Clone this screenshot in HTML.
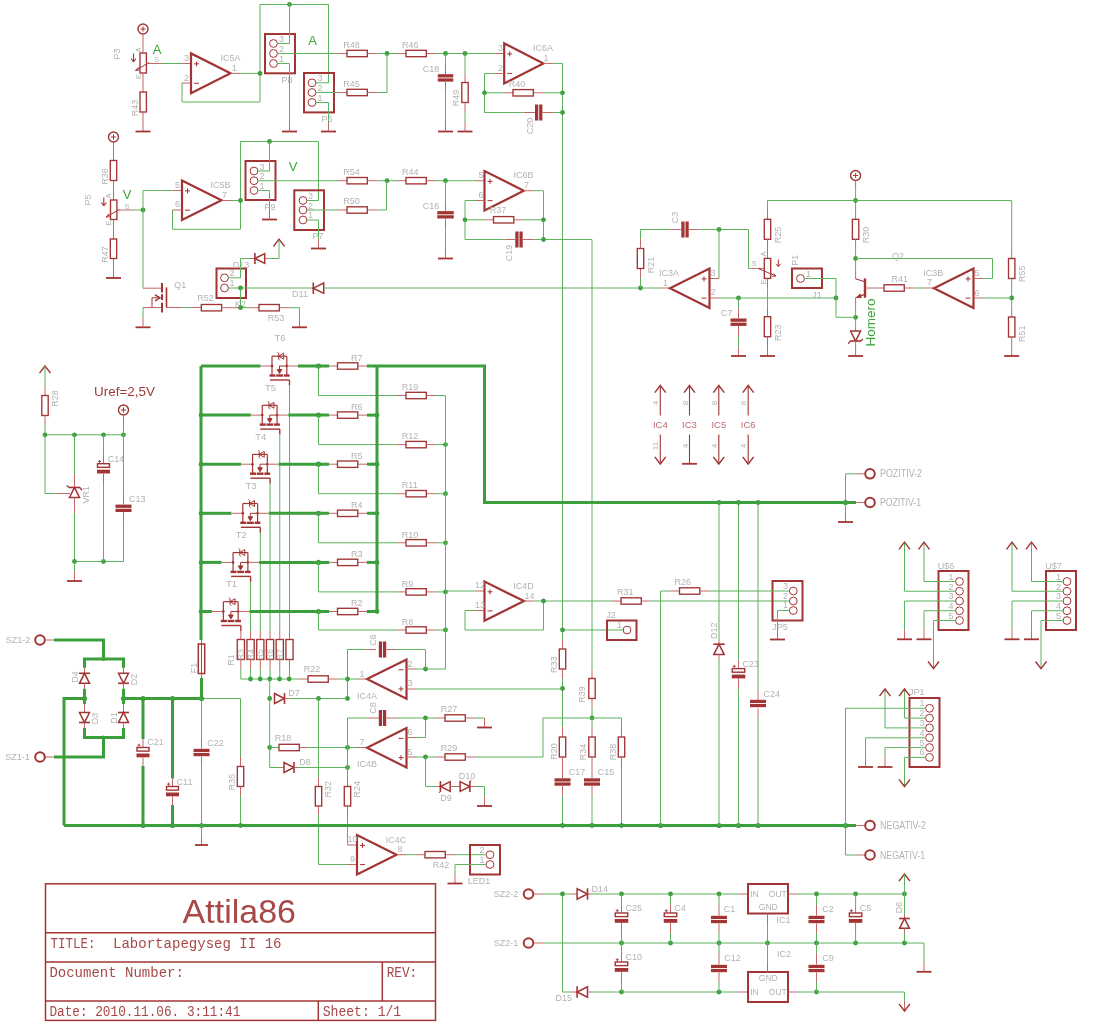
<!DOCTYPE html>
<html><head><meta charset="utf-8"><style>
html,body{margin:0;padding:0;background:#fff;}
svg{display:block;will-change:transform;}
text{font-family:"Liberation Sans",sans-serif;}
.mono{font-family:"Liberation Mono",monospace;}
</style></head><body>
<svg width="1102" height="1024" viewBox="0 0 1102 1024">
<rect width="1102" height="1024" fill="#fff"/>
<circle cx="143" cy="29" r="5" fill="none" stroke="#a23434" stroke-width="1.4"/>
<line x1="140.4" y1="29" x2="145.6" y2="29" stroke="#a23434" stroke-width="1"/>
<line x1="143" y1="26.4" x2="143" y2="31.6" stroke="#a23434" stroke-width="1"/>
<line x1="143" y1="34" x2="143" y2="53" stroke="#c06868" stroke-width="1"/>
<rect x="140" y="53" width="6.4" height="20" fill="none" stroke="#a23434" stroke-width="1.35"/>
<line x1="135.5" y1="70.5" x2="149" y2="62.5" stroke="#a23434" stroke-width="1"/>
<line x1="135.5" y1="70.5" x2="138.5" y2="67.2" stroke="#a23434" stroke-width="0.9"/>
<line x1="135.5" y1="70.5" x2="139.3" y2="70.2" stroke="#a23434" stroke-width="0.9"/>
<line x1="133.5" y1="53.5" x2="133.5" y2="61.5" stroke="#a23434" stroke-width="1.1"/>
<line x1="131" y1="58.5" x2="133.5" y2="61.8" stroke="#a23434" stroke-width="1.1"/>
<line x1="136" y1="58.5" x2="133.5" y2="61.8" stroke="#a23434" stroke-width="1.1"/>
<line x1="143" y1="73" x2="143" y2="92" stroke="#c06868" stroke-width="1"/>
<rect x="140" y="92" width="6.4" height="20" fill="none" stroke="#a23434" stroke-width="1.35"/>
<line x1="143" y1="112" x2="143" y2="131.5" stroke="#c06868" stroke-width="1"/>
<line x1="135.5" y1="131.5" x2="150.5" y2="131.5" stroke="#a23434" stroke-width="1.8"/>
<line x1="146.5" y1="63.5" x2="162" y2="63.5" stroke="#c06868" stroke-width="1"/>
<polyline points="162,63.5 182,63.5" fill="none" stroke="#5db25d" stroke-width="1"/>
<line x1="182" y1="63.5" x2="191" y2="63.5" stroke="#c06868" stroke-width="1"/>
<text x="120.24" y="54" font-size="9" fill="#b3b3b3" text-anchor="middle" transform="rotate(-90 120.24 54)">P3</text>
<text x="141.4" y="50" font-size="7.5" fill="#b3b3b3" text-anchor="middle" transform="rotate(-90 141.4 50)">A</text>
<text x="141.4" y="76.5" font-size="7.5" fill="#b3b3b3" text-anchor="middle" transform="rotate(-90 141.4 76.5)">E</text>
<text x="156.5" y="61.7" font-size="7.5" fill="#b3b3b3" text-anchor="middle">S</text>
<text x="157" y="54.18" font-size="13" fill="#3aa53a" text-anchor="middle">A</text>
<text x="137.54" y="108" font-size="9" fill="#b3b3b3" text-anchor="middle" transform="rotate(-90 137.54 108)">R43</text>
<polygon points="191,53.4 191,93.2 230.5,73.3" fill="none" stroke="#a23434" stroke-width="2.2" stroke-linejoin="miter"/>
<line x1="194" y1="63.85" x2="199" y2="63.85" stroke="#a23434" stroke-width="1"/>
<line x1="196.5" y1="61.35" x2="196.5" y2="66.35" stroke="#a23434" stroke-width="1"/>
<line x1="194" y1="83.25" x2="199" y2="83.25" stroke="#a23434" stroke-width="1"/>
<text x="186.5" y="61.34" font-size="9" fill="#b3b3b3" text-anchor="middle">3</text>
<text x="186.5" y="80.84" font-size="9" fill="#b3b3b3" text-anchor="middle">2</text>
<text x="234.5" y="70.84" font-size="9" fill="#b3b3b3" text-anchor="middle">1</text>
<text x="230.5" y="61.24" font-size="9" fill="#b3b3b3" text-anchor="middle">IC5A</text>
<line x1="230.5" y1="73.4" x2="240" y2="73.4" stroke="#c06868" stroke-width="1"/>
<polyline points="240,73.4 260,73.4" fill="none" stroke="#5db25d" stroke-width="1"/>
<line x1="182" y1="83" x2="191" y2="83" stroke="#c06868" stroke-width="1"/>
<polyline points="182,83 182,102 260,102 260,4.5 328.5,4.5 328.5,82.8 316,82.8" fill="none" stroke="#5db25d" stroke-width="1"/>
<circle cx="260" cy="73.4" r="2.4" fill="#40a040"/>
<circle cx="289.5" cy="4.5" r="2.4" fill="#40a040"/>
<rect x="265" y="34" width="30" height="39.3" fill="none" stroke="#a23434" stroke-width="2"/>
<circle cx="273.5" cy="43.5" r="3.9" fill="none" stroke="#a23434" stroke-width="1"/>
<circle cx="273.5" cy="53.5" r="3.9" fill="none" stroke="#a23434" stroke-width="1"/>
<circle cx="273.5" cy="63.5" r="3.9" fill="none" stroke="#a23434" stroke-width="1"/>
<text x="281.5" y="42.34" font-size="9" fill="#b3b3b3" text-anchor="middle">3</text>
<text x="281.5" y="51.84" font-size="9" fill="#b3b3b3" text-anchor="middle">2</text>
<text x="281.5" y="61.84" font-size="9" fill="#b3b3b3" text-anchor="middle">1</text>
<text x="287" y="83.24" font-size="9" fill="#b3b3b3" text-anchor="middle">P8</text>
<polyline points="277.4,43.5 289.5,43.5 289.5,4.5" fill="none" stroke="#5db25d" stroke-width="1"/>
<polyline points="277.4,63.5 289.5,63.5 289.5,122" fill="none" stroke="#5db25d" stroke-width="1"/>
<line x1="282" y1="131.5" x2="297" y2="131.5" stroke="#a23434" stroke-width="1.8"/>
<line x1="289.5" y1="122" x2="289.5" y2="131.5" stroke="#c06868" stroke-width="1"/>
<polyline points="277.4,53.5 338,53.5" fill="none" stroke="#5db25d" stroke-width="1"/>
<line x1="338" y1="53.5" x2="347" y2="53.5" stroke="#c06868" stroke-width="1"/>
<rect x="347" y="50.3" width="20.3" height="6.4" fill="none" stroke="#a23434" stroke-width="1.35"/>
<line x1="367.5" y1="53.5" x2="377" y2="53.5" stroke="#c06868" stroke-width="1"/>
<polyline points="377,53.5 397,53.5" fill="none" stroke="#5db25d" stroke-width="1"/>
<circle cx="387" cy="53.5" r="2.4" fill="#40a040"/>
<line x1="397" y1="53.5" x2="406" y2="53.5" stroke="#c06868" stroke-width="1"/>
<rect x="406" y="50.3" width="20.3" height="6.4" fill="none" stroke="#a23434" stroke-width="1.35"/>
<line x1="426.5" y1="53.5" x2="436" y2="53.5" stroke="#c06868" stroke-width="1"/>
<polyline points="436,53.5 494.5,53.5" fill="none" stroke="#5db25d" stroke-width="1"/>
<circle cx="445.5" cy="53.5" r="2.4" fill="#40a040"/>
<circle cx="465" cy="53.5" r="2.4" fill="#40a040"/>
<line x1="494.5" y1="53.5" x2="504" y2="53.5" stroke="#c06868" stroke-width="1"/>
<text x="312.5" y="44.68" font-size="13" fill="#3aa53a" text-anchor="middle">A</text>
<text x="343.2" y="47.74" font-size="9" fill="#b3b3b3" text-anchor="start">R48</text>
<text x="402" y="47.74" font-size="9" fill="#b3b3b3" text-anchor="start">R46</text>
<rect x="304" y="73" width="30" height="39.4" fill="none" stroke="#a23434" stroke-width="2"/>
<circle cx="312" cy="82.8" r="3.9" fill="none" stroke="#a23434" stroke-width="1"/>
<circle cx="312" cy="92.5" r="3.9" fill="none" stroke="#a23434" stroke-width="1"/>
<circle cx="312" cy="102.5" r="3.9" fill="none" stroke="#a23434" stroke-width="1"/>
<text x="320" y="81.34" font-size="9" fill="#b3b3b3" text-anchor="middle">3</text>
<text x="320" y="90.84" font-size="9" fill="#b3b3b3" text-anchor="middle">2</text>
<text x="320" y="100.84" font-size="9" fill="#b3b3b3" text-anchor="middle">1</text>
<text x="327" y="122.24" font-size="9" fill="#b3b3b3" text-anchor="middle">P6</text>
<polyline points="315.9,102.5 328.5,102.5 328.5,122" fill="none" stroke="#5db25d" stroke-width="1"/>
<line x1="321" y1="131.5" x2="336" y2="131.5" stroke="#a23434" stroke-width="1.8"/>
<line x1="328.5" y1="122" x2="328.5" y2="131.5" stroke="#c06868" stroke-width="1"/>
<polyline points="315.9,92.5 338,92.5" fill="none" stroke="#5db25d" stroke-width="1"/>
<line x1="338" y1="92.5" x2="347" y2="92.5" stroke="#c06868" stroke-width="1"/>
<rect x="347" y="89.3" width="20.3" height="6.4" fill="none" stroke="#a23434" stroke-width="1.35"/>
<line x1="367.5" y1="92.5" x2="377" y2="92.5" stroke="#c06868" stroke-width="1"/>
<polyline points="377,92.5 387,92.5 387,53.5" fill="none" stroke="#5db25d" stroke-width="1"/>
<text x="343.2" y="87.24" font-size="9" fill="#b3b3b3" text-anchor="start">R45</text>
<polyline points="445.5,53.5 445.5,63.5" fill="none" stroke="#5db25d" stroke-width="1"/>
<line x1="445.5" y1="63.5" x2="445.5" y2="74.5" stroke="#c06868" stroke-width="1"/>
<rect x="437.75" y="74.2" width="15.5" height="3.25" fill="#a23434"/>
<rect x="437.75" y="78.35" width="15.5" height="3.25" fill="#a23434"/>
<line x1="445.5" y1="81.5" x2="445.5" y2="92.5" stroke="#c06868" stroke-width="1"/>
<polyline points="445.5,92.5 445.5,122" fill="none" stroke="#5db25d" stroke-width="1"/>
<line x1="438" y1="131.5" x2="453" y2="131.5" stroke="#a23434" stroke-width="1.8"/>
<line x1="445.5" y1="122" x2="445.5" y2="131.5" stroke="#c06868" stroke-width="1"/>
<text x="431" y="71.74" font-size="9" fill="#b3b3b3" text-anchor="middle">C18</text>
<polyline points="465,53.5 465,73.5" fill="none" stroke="#5db25d" stroke-width="1"/>
<line x1="465" y1="73.5" x2="465" y2="82.5" stroke="#c06868" stroke-width="1"/>
<rect x="461.8" y="82.5" width="6.4" height="20" fill="none" stroke="#a23434" stroke-width="1.35"/>
<line x1="465" y1="102.5" x2="465" y2="112" stroke="#c06868" stroke-width="1"/>
<polyline points="465,112 465,122" fill="none" stroke="#5db25d" stroke-width="1"/>
<line x1="457.5" y1="131.5" x2="472.5" y2="131.5" stroke="#a23434" stroke-width="1.8"/>
<line x1="465" y1="122" x2="465" y2="131.5" stroke="#c06868" stroke-width="1"/>
<text x="458.74" y="98" font-size="9" fill="#b3b3b3" text-anchor="middle" transform="rotate(-90 458.74 98)">R49</text>
<polygon points="504.2,43.4 504.2,83.4 543.4,63.4" fill="none" stroke="#a23434" stroke-width="2.2" stroke-linejoin="miter"/>
<line x1="507.2" y1="53.9" x2="512.2" y2="53.9" stroke="#a23434" stroke-width="1"/>
<line x1="509.7" y1="51.4" x2="509.7" y2="56.4" stroke="#a23434" stroke-width="1"/>
<line x1="507.2" y1="73.4" x2="512.2" y2="73.4" stroke="#a23434" stroke-width="1"/>
<text x="500.5" y="50.84" font-size="9" fill="#b3b3b3" text-anchor="middle">3</text>
<text x="500.5" y="70.84" font-size="9" fill="#b3b3b3" text-anchor="middle">2</text>
<text x="546" y="60.84" font-size="9" fill="#b3b3b3" text-anchor="middle">1</text>
<text x="543" y="50.84" font-size="9" fill="#b3b3b3" text-anchor="middle">IC6A</text>
<line x1="543.4" y1="63.4" x2="553" y2="63.4" stroke="#c06868" stroke-width="1"/>
<polyline points="553,63.4 562.5,63.4 562.5,640" fill="none" stroke="#5db25d" stroke-width="1"/>
<line x1="494.5" y1="73.5" x2="504" y2="73.5" stroke="#c06868" stroke-width="1"/>
<polyline points="494.5,73.5 484.5,73.5 484.5,112.5 523.5,112.5" fill="none" stroke="#5db25d" stroke-width="1"/>
<polyline points="484.5,92.8 504,92.8" fill="none" stroke="#5db25d" stroke-width="1"/>
<line x1="504" y1="92.8" x2="513" y2="92.8" stroke="#c06868" stroke-width="1"/>
<rect x="513" y="89.6" width="20.3" height="6.4" fill="none" stroke="#a23434" stroke-width="1.35"/>
<line x1="533.5" y1="92.8" x2="543.5" y2="92.8" stroke="#c06868" stroke-width="1"/>
<polyline points="543.5,92.8 562.5,92.8" fill="none" stroke="#5db25d" stroke-width="1"/>
<circle cx="484.5" cy="92.8" r="2.4" fill="#40a040"/>
<circle cx="562.5" cy="92.8" r="2.4" fill="#40a040"/>
<line x1="523.5" y1="112.5" x2="535" y2="112.5" stroke="#c06868" stroke-width="1"/>
<rect x="535" y="104.5" width="3.25" height="16" fill="#a23434"/>
<rect x="539.15" y="104.5" width="3.25" height="16" fill="#a23434"/>
<line x1="542.5" y1="112.5" x2="553" y2="112.5" stroke="#c06868" stroke-width="1"/>
<polyline points="553,112.5 562.5,112.5" fill="none" stroke="#5db25d" stroke-width="1"/>
<circle cx="562.5" cy="112.5" r="2.4" fill="#40a040"/>
<text x="508.8" y="87.24" font-size="9" fill="#b3b3b3" text-anchor="start">R40</text>
<text x="533.24" y="126" font-size="9" fill="#b3b3b3" text-anchor="middle" transform="rotate(-90 533.24 126)">C20</text>
<circle cx="113.5" cy="137" r="5" fill="none" stroke="#a23434" stroke-width="1.4"/>
<line x1="110.9" y1="137" x2="116.1" y2="137" stroke="#a23434" stroke-width="1"/>
<line x1="113.5" y1="134.4" x2="113.5" y2="139.6" stroke="#a23434" stroke-width="1"/>
<line x1="113.5" y1="142" x2="113.5" y2="160.5" stroke="#c06868" stroke-width="1"/>
<rect x="110.3" y="160.5" width="6.4" height="20" fill="none" stroke="#a23434" stroke-width="1.35"/>
<line x1="113.5" y1="180.5" x2="113.5" y2="200" stroke="#c06868" stroke-width="1"/>
<rect x="110.5" y="200" width="6.4" height="19.5" fill="none" stroke="#a23434" stroke-width="1.35"/>
<line x1="106" y1="217" x2="119.5" y2="209.5" stroke="#a23434" stroke-width="1"/>
<line x1="106" y1="217" x2="109" y2="213.8" stroke="#a23434" stroke-width="0.9"/>
<line x1="106" y1="217" x2="109.8" y2="216.8" stroke="#a23434" stroke-width="0.9"/>
<line x1="103.8" y1="197.5" x2="103.8" y2="205.5" stroke="#a23434" stroke-width="1.1"/>
<line x1="101.3" y1="202.5" x2="103.8" y2="205.8" stroke="#a23434" stroke-width="1.1"/>
<line x1="106.3" y1="202.5" x2="103.8" y2="205.8" stroke="#a23434" stroke-width="1.1"/>
<line x1="113.5" y1="219.5" x2="113.5" y2="239" stroke="#c06868" stroke-width="1"/>
<rect x="110.3" y="239" width="6.4" height="19.5" fill="none" stroke="#a23434" stroke-width="1.35"/>
<line x1="113.5" y1="258.5" x2="113.5" y2="278" stroke="#c06868" stroke-width="1"/>
<line x1="106" y1="278" x2="121" y2="278" stroke="#a23434" stroke-width="1.8"/>
<line x1="117" y1="210" x2="133" y2="210" stroke="#c06868" stroke-width="1"/>
<polyline points="133,210 143,210" fill="none" stroke="#5db25d" stroke-width="1"/>
<circle cx="143" cy="210" r="2.4" fill="#40a040"/>
<text x="91.24" y="200" font-size="9" fill="#b3b3b3" text-anchor="middle" transform="rotate(-90 91.24 200)">P5</text>
<text x="111.2" y="196" font-size="7.5" fill="#b3b3b3" text-anchor="middle" transform="rotate(-90 111.2 196)">A</text>
<text x="111.2" y="223" font-size="7.5" fill="#b3b3b3" text-anchor="middle" transform="rotate(-90 111.2 223)">E</text>
<text x="127" y="208.7" font-size="7.5" fill="#b3b3b3" text-anchor="middle">S</text>
<text x="127" y="198.68" font-size="13" fill="#3aa53a" text-anchor="middle">V</text>
<text x="107.74" y="176.5" font-size="9" fill="#b3b3b3" text-anchor="middle" transform="rotate(-90 107.74 176.5)">R36</text>
<text x="107.74" y="254.5" font-size="9" fill="#b3b3b3" text-anchor="middle" transform="rotate(-90 107.74 254.5)">R47</text>
<polyline points="143,210 143,190.5 172.5,190.5" fill="none" stroke="#5db25d" stroke-width="1"/>
<line x1="172.5" y1="190.5" x2="182" y2="190.5" stroke="#c06868" stroke-width="1"/>
<polygon points="182,180.5 182,220 221.5,200.25" fill="none" stroke="#a23434" stroke-width="2.2" stroke-linejoin="miter"/>
<line x1="185" y1="190.88" x2="190" y2="190.88" stroke="#a23434" stroke-width="1"/>
<line x1="187.5" y1="188.38" x2="187.5" y2="193.38" stroke="#a23434" stroke-width="1"/>
<line x1="185" y1="210.12" x2="190" y2="210.12" stroke="#a23434" stroke-width="1"/>
<text x="177.5" y="187.84" font-size="9" fill="#b3b3b3" text-anchor="middle">5</text>
<text x="177.5" y="207.34" font-size="9" fill="#b3b3b3" text-anchor="middle">6</text>
<text x="224.5" y="197.84" font-size="9" fill="#b3b3b3" text-anchor="middle">7</text>
<text x="220.5" y="187.74" font-size="9" fill="#b3b3b3" text-anchor="middle">IC5B</text>
<line x1="172.5" y1="210" x2="182" y2="210" stroke="#c06868" stroke-width="1"/>
<polyline points="172.5,210 172.5,229.3 240.5,229.3 240.5,141.5 318.5,141.5 318.5,200.5 307,200.5" fill="none" stroke="#5db25d" stroke-width="1"/>
<line x1="221.5" y1="200.5" x2="231" y2="200.5" stroke="#c06868" stroke-width="1"/>
<polyline points="231,200.5 240.5,200.5" fill="none" stroke="#5db25d" stroke-width="1"/>
<circle cx="240.5" cy="200.5" r="2.4" fill="#40a040"/>
<circle cx="269.5" cy="141.5" r="2.4" fill="#40a040"/>
<rect x="245.5" y="161" width="30" height="39" fill="none" stroke="#a23434" stroke-width="2"/>
<circle cx="254" cy="171" r="3.9" fill="none" stroke="#a23434" stroke-width="1"/>
<circle cx="254" cy="180.7" r="3.9" fill="none" stroke="#a23434" stroke-width="1"/>
<circle cx="254" cy="190.5" r="3.9" fill="none" stroke="#a23434" stroke-width="1"/>
<text x="262" y="169.84" font-size="9" fill="#b3b3b3" text-anchor="middle">3</text>
<text x="262" y="179.34" font-size="9" fill="#b3b3b3" text-anchor="middle">2</text>
<text x="262" y="189.34" font-size="9" fill="#b3b3b3" text-anchor="middle">1</text>
<text x="270" y="210.24" font-size="9" fill="#b3b3b3" text-anchor="middle">P9</text>
<polyline points="257.9,171 269.5,171 269.5,141.5" fill="none" stroke="#5db25d" stroke-width="1"/>
<polyline points="257.9,190.5 269.5,190.5 269.5,210" fill="none" stroke="#5db25d" stroke-width="1"/>
<line x1="262" y1="219.5" x2="277" y2="219.5" stroke="#a23434" stroke-width="1.8"/>
<line x1="269.5" y1="210" x2="269.5" y2="219.5" stroke="#c06868" stroke-width="1"/>
<polyline points="257.9,180.7 338,180.7" fill="none" stroke="#5db25d" stroke-width="1"/>
<line x1="338" y1="180.7" x2="347" y2="180.7" stroke="#c06868" stroke-width="1"/>
<rect x="347" y="177.5" width="20.3" height="6.4" fill="none" stroke="#a23434" stroke-width="1.35"/>
<line x1="367.5" y1="180.7" x2="377" y2="180.7" stroke="#c06868" stroke-width="1"/>
<polyline points="377,180.7 397,180.7" fill="none" stroke="#5db25d" stroke-width="1"/>
<circle cx="387" cy="180.7" r="2.4" fill="#40a040"/>
<line x1="397" y1="180.7" x2="406" y2="180.7" stroke="#c06868" stroke-width="1"/>
<rect x="406" y="177.5" width="20.3" height="6.4" fill="none" stroke="#a23434" stroke-width="1.35"/>
<line x1="426.5" y1="180.7" x2="436" y2="180.7" stroke="#c06868" stroke-width="1"/>
<polyline points="436,180.7 475,180.7" fill="none" stroke="#5db25d" stroke-width="1"/>
<circle cx="445.5" cy="180.7" r="2.4" fill="#40a040"/>
<line x1="475" y1="180.7" x2="484.5" y2="180.7" stroke="#c06868" stroke-width="1"/>
<text x="293" y="170.68" font-size="13" fill="#3aa53a" text-anchor="middle">V</text>
<text x="343.2" y="175.24" font-size="9" fill="#b3b3b3" text-anchor="start">R54</text>
<text x="402" y="175.24" font-size="9" fill="#b3b3b3" text-anchor="start">R44</text>
<rect x="294.3" y="190.3" width="29.7" height="39.7" fill="none" stroke="#a23434" stroke-width="2"/>
<circle cx="303" cy="200.5" r="3.9" fill="none" stroke="#a23434" stroke-width="1"/>
<circle cx="303" cy="210" r="3.9" fill="none" stroke="#a23434" stroke-width="1"/>
<circle cx="303" cy="220" r="3.9" fill="none" stroke="#a23434" stroke-width="1"/>
<text x="310.5" y="199.34" font-size="9" fill="#b3b3b3" text-anchor="middle">3</text>
<text x="310.5" y="208.84" font-size="9" fill="#b3b3b3" text-anchor="middle">2</text>
<text x="310.5" y="218.34" font-size="9" fill="#b3b3b3" text-anchor="middle">1</text>
<text x="318" y="239.24" font-size="9" fill="#b3b3b3" text-anchor="middle">P7</text>
<polyline points="306.9,220 318.5,220 318.5,239" fill="none" stroke="#5db25d" stroke-width="1"/>
<line x1="311" y1="248.5" x2="326" y2="248.5" stroke="#a23434" stroke-width="1.8"/>
<line x1="318.5" y1="239" x2="318.5" y2="248.5" stroke="#c06868" stroke-width="1"/>
<polyline points="306.9,210 338,210" fill="none" stroke="#5db25d" stroke-width="1"/>
<line x1="338" y1="210" x2="347" y2="210" stroke="#c06868" stroke-width="1"/>
<rect x="347" y="206.8" width="20.3" height="6.4" fill="none" stroke="#a23434" stroke-width="1.35"/>
<line x1="367.5" y1="210" x2="377" y2="210" stroke="#c06868" stroke-width="1"/>
<polyline points="377,210 386.5,210 386.5,180.7" fill="none" stroke="#5db25d" stroke-width="1"/>
<text x="343.2" y="204.24" font-size="9" fill="#b3b3b3" text-anchor="start">R50</text>
<polyline points="445.5,180.7 445.5,200.5" fill="none" stroke="#5db25d" stroke-width="1"/>
<line x1="445.5" y1="200.5" x2="445.5" y2="211" stroke="#c06868" stroke-width="1"/>
<rect x="437.25" y="211.1" width="16.5" height="3.25" fill="#a23434"/>
<rect x="437.25" y="215.25" width="16.5" height="3.25" fill="#a23434"/>
<line x1="445.5" y1="218.5" x2="445.5" y2="229.3" stroke="#c06868" stroke-width="1"/>
<polyline points="445.5,229.3 445.5,249.5" fill="none" stroke="#5db25d" stroke-width="1"/>
<line x1="438" y1="258.5" x2="453" y2="258.5" stroke="#a23434" stroke-width="1.8"/>
<line x1="445.5" y1="249" x2="445.5" y2="258.5" stroke="#c06868" stroke-width="1"/>
<text x="431" y="208.54" font-size="9" fill="#b3b3b3" text-anchor="middle">C16</text>
<polygon points="484.5,171 484.5,210.5 523.7,190.75" fill="none" stroke="#a23434" stroke-width="2.2" stroke-linejoin="miter"/>
<line x1="487.5" y1="181.38" x2="492.5" y2="181.38" stroke="#a23434" stroke-width="1"/>
<line x1="490" y1="178.88" x2="490" y2="183.88" stroke="#a23434" stroke-width="1"/>
<line x1="487.5" y1="200.62" x2="492.5" y2="200.62" stroke="#a23434" stroke-width="1"/>
<text x="481" y="178.34" font-size="9" fill="#b3b3b3" text-anchor="middle">5</text>
<text x="481" y="197.84" font-size="9" fill="#b3b3b3" text-anchor="middle">6</text>
<text x="526.5" y="188.34" font-size="9" fill="#b3b3b3" text-anchor="middle">7</text>
<text x="523.4" y="177.94" font-size="9" fill="#b3b3b3" text-anchor="middle">IC6B</text>
<line x1="523.7" y1="190.7" x2="533" y2="190.7" stroke="#c06868" stroke-width="1"/>
<polyline points="533,190.7 543.5,190.7 543.5,239.5 592,239.5 592,670" fill="none" stroke="#5db25d" stroke-width="1"/>
<line x1="475" y1="200.5" x2="484.5" y2="200.5" stroke="#c06868" stroke-width="1"/>
<polyline points="475,200.5 465,200.5 465,239.5 504.5,239.5" fill="none" stroke="#5db25d" stroke-width="1"/>
<polyline points="465,219.8 484.5,219.8" fill="none" stroke="#5db25d" stroke-width="1"/>
<line x1="484.5" y1="219.8" x2="493.5" y2="219.8" stroke="#c06868" stroke-width="1"/>
<rect x="493.5" y="216.6" width="20.3" height="6.4" fill="none" stroke="#a23434" stroke-width="1.35"/>
<line x1="514" y1="219.8" x2="523.5" y2="219.8" stroke="#c06868" stroke-width="1"/>
<polyline points="523.5,219.8 543.5,219.8" fill="none" stroke="#5db25d" stroke-width="1"/>
<circle cx="465" cy="219.8" r="2.4" fill="#40a040"/>
<circle cx="543.5" cy="219.8" r="2.4" fill="#40a040"/>
<line x1="504.5" y1="239.5" x2="515" y2="239.5" stroke="#c06868" stroke-width="1"/>
<rect x="515.3" y="231.5" width="3.25" height="16" fill="#a23434"/>
<rect x="519.45" y="231.5" width="3.25" height="16" fill="#a23434"/>
<line x1="523" y1="239.5" x2="533.5" y2="239.5" stroke="#c06868" stroke-width="1"/>
<polyline points="533.5,239.5 543.5,239.5" fill="none" stroke="#5db25d" stroke-width="1"/>
<circle cx="543.5" cy="239.5" r="2.4" fill="#40a040"/>
<text x="498" y="213.24" font-size="9" fill="#b3b3b3" text-anchor="middle">R37</text>
<text x="512.24" y="253" font-size="9" fill="#b3b3b3" text-anchor="middle" transform="rotate(-90 512.24 253)">C19</text>
<polyline points="143,210 143,288.2" fill="none" stroke="#5db25d" stroke-width="1"/>
<line x1="143" y1="288.2" x2="161.5" y2="288.2" stroke="#c06868" stroke-width="1"/>
<line x1="162" y1="283" x2="162" y2="292.5" stroke="#a23434" stroke-width="2"/>
<line x1="162" y1="294.3" x2="162" y2="300.1" stroke="#a23434" stroke-width="2"/>
<line x1="162" y1="302.7" x2="162" y2="312.5" stroke="#a23434" stroke-width="2"/>
<line x1="166.5" y1="287.4" x2="166.5" y2="307.7" stroke="#a23434" stroke-width="1.6"/>
<line x1="143" y1="307.5" x2="161.5" y2="307.5" stroke="#c06868" stroke-width="1"/>
<line x1="152" y1="307.5" x2="152" y2="297.8" stroke="#a23434" stroke-width="1"/>
<line x1="152" y1="297.8" x2="160" y2="297.8" stroke="#a23434" stroke-width="1"/>
<polyline points="155,294.8 160,297.8 155,300.8" fill="none" stroke="#a23434" stroke-width="1.4" stroke-linejoin="miter"/>
<line x1="166.5" y1="307.5" x2="181.5" y2="307.5" stroke="#c06868" stroke-width="1"/>
<polyline points="181.5,307.5 192,307.5" fill="none" stroke="#5db25d" stroke-width="1"/>
<line x1="192" y1="307.5" x2="201.3" y2="307.5" stroke="#c06868" stroke-width="1"/>
<polyline points="143,307.5 143,318" fill="none" stroke="#5db25d" stroke-width="1"/>
<line x1="135.5" y1="327.3" x2="150.5" y2="327.3" stroke="#a23434" stroke-width="1.8"/>
<line x1="143" y1="318" x2="143" y2="327.3" stroke="#c06868" stroke-width="1"/>
<text x="180.3" y="288.24" font-size="9" fill="#b3b3b3" text-anchor="middle">Q1</text>
<rect x="201.3" y="304.5" width="20.3" height="6.4" fill="none" stroke="#a23434" stroke-width="1.35"/>
<text x="205.5" y="301.24" font-size="9" fill="#b3b3b3" text-anchor="middle">R52</text>
<rect x="216.5" y="268.5" width="29.5" height="29.5" fill="none" stroke="#a23434" stroke-width="2"/>
<circle cx="224.5" cy="277.8" r="3.9" fill="none" stroke="#a23434" stroke-width="1"/>
<circle cx="224.5" cy="288" r="3.9" fill="none" stroke="#a23434" stroke-width="1"/>
<text x="232" y="276.34" font-size="9" fill="#b3b3b3" text-anchor="middle">2</text>
<text x="232" y="286.34" font-size="9" fill="#b3b3b3" text-anchor="middle">1</text>
<text x="240.5" y="306.74" font-size="9" fill="#b3b3b3" text-anchor="middle">K2</text>
<line x1="221.8" y1="307.7" x2="240.5" y2="307.7" stroke="#c06868" stroke-width="1"/>
<polyline points="228.4,277.8 240.5,277.8 240.5,258.5 250,258.5" fill="none" stroke="#5db25d" stroke-width="1"/>
<line x1="250" y1="258.5" x2="255" y2="258.5" stroke="#c06868" stroke-width="1"/>
<polygon points="264.7,253.6 264.7,263.4 254.9,258.5" fill="none" stroke="#a23434" stroke-width="1.5" stroke-linejoin="miter"/>
<line x1="254.9" y1="253.1" x2="254.9" y2="263.9" stroke="#a23434" stroke-width="1.6"/>
<line x1="264.7" y1="258.5" x2="268.5" y2="258.5" stroke="#c06868" stroke-width="1"/>
<polyline points="268.5,258.5 279,258.5 279,239.5" fill="none" stroke="#5db25d" stroke-width="1"/>
<polyline points="273.5,246.4 279,239.2 284.5,246.4" fill="none" stroke="#a23434" stroke-width="1.4" stroke-linejoin="miter"/>
<text x="241" y="267.74" font-size="9" fill="#b3b3b3" text-anchor="middle">D13</text>
<polyline points="228.4,288 313,288" fill="none" stroke="#5db25d" stroke-width="1"/>
<circle cx="240.5" cy="288" r="2.4" fill="#40a040"/>
<polygon points="323.7,283 323.7,293.4 313.3,288.2" fill="none" stroke="#a23434" stroke-width="1.5" stroke-linejoin="miter"/>
<line x1="313.3" y1="282.5" x2="313.3" y2="293.9" stroke="#a23434" stroke-width="1.6"/>
<polyline points="323.7,288 640.5,288" fill="none" stroke="#5db25d" stroke-width="1"/>
<text x="300" y="296.74" font-size="9" fill="#b3b3b3" text-anchor="middle">D11</text>
<polyline points="240.5,288 240.5,307.7 250,307.7" fill="none" stroke="#5db25d" stroke-width="1"/>
<circle cx="240.5" cy="307.7" r="2.4" fill="#40a040"/>
<line x1="250" y1="307.7" x2="259" y2="307.7" stroke="#c06868" stroke-width="1"/>
<rect x="259" y="304.5" width="20.3" height="6.4" fill="none" stroke="#a23434" stroke-width="1.35"/>
<line x1="279.5" y1="307.7" x2="289" y2="307.7" stroke="#c06868" stroke-width="1"/>
<polyline points="289,307.7 299.5,307.7 299.5,318" fill="none" stroke="#5db25d" stroke-width="1"/>
<line x1="299.5" y1="318" x2="299.5" y2="327.3" stroke="#c06868" stroke-width="1"/>
<line x1="292" y1="327.3" x2="307" y2="327.3" stroke="#a23434" stroke-width="1.8"/>
<text x="276" y="320.74" font-size="9" fill="#b3b3b3" text-anchor="middle">R53</text>
<polyline points="201,366 260.5,366" fill="none" stroke="#3b9f3b" stroke-width="3"/>
<line x1="260.5" y1="366" x2="272" y2="366" stroke="#c06868" stroke-width="1"/>
<circle cx="272" cy="366" r="1.3" fill="#a23434"/>
<line x1="272" y1="356.2" x2="272" y2="375.5" stroke="#a23434" stroke-width="1.2"/>
<line x1="272" y1="356.2" x2="286.8" y2="356.2" stroke="#a23434" stroke-width="1.2"/>
<line x1="286.8" y1="356.2" x2="286.8" y2="375.5" stroke="#a23434" stroke-width="1.2"/>
<circle cx="286.8" cy="366" r="1.3" fill="#a23434"/>
<polygon points="283.7,353.2 283.7,359.2 278.7,356.2" fill="none" stroke="#a23434" stroke-width="1" stroke-linejoin="miter"/>
<line x1="278.7" y1="353.2" x2="278.7" y2="359.2" stroke="#a23434" stroke-width="1"/>
<line x1="278.7" y1="353.2" x2="277.5" y2="352" stroke="#a23434" stroke-width="0.9"/>
<line x1="278.7" y1="359.2" x2="279.9" y2="360.4" stroke="#a23434" stroke-width="0.9"/>
<line x1="286.8" y1="366" x2="279.5" y2="366" stroke="#a23434" stroke-width="1"/>
<line x1="279.5" y1="366" x2="279.5" y2="370" stroke="#a23434" stroke-width="1"/>
<polygon points="277.2,369.5 281.8,369.5 279.5,373.5" fill="#a23434" stroke="#a23434" stroke-width="1" stroke-linejoin="miter"/>
<rect x="269.5" y="374.3" width="6" height="2.4" fill="#a23434"/>
<rect x="276.2" y="374.3" width="6.8" height="2.4" fill="#a23434"/>
<rect x="283.8" y="374.3" width="5.8" height="2.4" fill="#a23434"/>
<line x1="270" y1="380" x2="289.5" y2="380" stroke="#a23434" stroke-width="1.4"/>
<line x1="289.5" y1="380" x2="289.5" y2="385.5" stroke="#a23434" stroke-width="1.4"/>
<line x1="286.8" y1="366" x2="298" y2="366" stroke="#c06868" stroke-width="1"/>
<text x="270.5" y="390.92" font-size="9.5" fill="#b3b3b3" text-anchor="middle">T5</text>
<polyline points="201,415.1 250.77,415.1" fill="none" stroke="#3b9f3b" stroke-width="3"/>
<circle cx="201" cy="415.1" r="2.3" fill="#3b9f3b"/>
<line x1="250.77" y1="415.1" x2="262.27" y2="415.1" stroke="#c06868" stroke-width="1"/>
<circle cx="262.27" cy="415.1" r="1.3" fill="#a23434"/>
<line x1="262.27" y1="405.3" x2="262.27" y2="424.6" stroke="#a23434" stroke-width="1.2"/>
<line x1="262.27" y1="405.3" x2="277.07" y2="405.3" stroke="#a23434" stroke-width="1.2"/>
<line x1="277.07" y1="405.3" x2="277.07" y2="424.6" stroke="#a23434" stroke-width="1.2"/>
<circle cx="277.07" cy="415.1" r="1.3" fill="#a23434"/>
<polygon points="273.97,402.3 273.97,408.3 268.97,405.3" fill="none" stroke="#a23434" stroke-width="1" stroke-linejoin="miter"/>
<line x1="268.97" y1="402.3" x2="268.97" y2="408.3" stroke="#a23434" stroke-width="1"/>
<line x1="268.97" y1="402.3" x2="267.77" y2="401.1" stroke="#a23434" stroke-width="0.9"/>
<line x1="268.97" y1="408.3" x2="270.17" y2="409.5" stroke="#a23434" stroke-width="0.9"/>
<line x1="277.07" y1="415.1" x2="269.77" y2="415.1" stroke="#a23434" stroke-width="1"/>
<line x1="269.77" y1="415.1" x2="269.77" y2="419.1" stroke="#a23434" stroke-width="1"/>
<polygon points="267.47,418.6 272.07,418.6 269.77,422.6" fill="#a23434" stroke="#a23434" stroke-width="1" stroke-linejoin="miter"/>
<rect x="259.77" y="423.4" width="6" height="2.4" fill="#a23434"/>
<rect x="266.47" y="423.4" width="6.8" height="2.4" fill="#a23434"/>
<rect x="274.07" y="423.4" width="5.8" height="2.4" fill="#a23434"/>
<line x1="260.27" y1="429.1" x2="279.77" y2="429.1" stroke="#a23434" stroke-width="1.4"/>
<line x1="279.77" y1="429.1" x2="279.77" y2="434.6" stroke="#a23434" stroke-width="1.4"/>
<line x1="277.07" y1="415.1" x2="288.27" y2="415.1" stroke="#c06868" stroke-width="1"/>
<text x="260.77" y="440.02" font-size="9.5" fill="#b3b3b3" text-anchor="middle">T4</text>
<polyline points="201,464.2 241.04,464.2" fill="none" stroke="#3b9f3b" stroke-width="3"/>
<circle cx="201" cy="464.2" r="2.3" fill="#3b9f3b"/>
<line x1="241.04" y1="464.2" x2="252.54" y2="464.2" stroke="#c06868" stroke-width="1"/>
<circle cx="252.54" cy="464.2" r="1.3" fill="#a23434"/>
<line x1="252.54" y1="454.4" x2="252.54" y2="473.7" stroke="#a23434" stroke-width="1.2"/>
<line x1="252.54" y1="454.4" x2="267.34" y2="454.4" stroke="#a23434" stroke-width="1.2"/>
<line x1="267.34" y1="454.4" x2="267.34" y2="473.7" stroke="#a23434" stroke-width="1.2"/>
<circle cx="267.34" cy="464.2" r="1.3" fill="#a23434"/>
<polygon points="264.24,451.4 264.24,457.4 259.24,454.4" fill="none" stroke="#a23434" stroke-width="1" stroke-linejoin="miter"/>
<line x1="259.24" y1="451.4" x2="259.24" y2="457.4" stroke="#a23434" stroke-width="1"/>
<line x1="259.24" y1="451.4" x2="258.04" y2="450.2" stroke="#a23434" stroke-width="0.9"/>
<line x1="259.24" y1="457.4" x2="260.44" y2="458.6" stroke="#a23434" stroke-width="0.9"/>
<line x1="267.34" y1="464.2" x2="260.04" y2="464.2" stroke="#a23434" stroke-width="1"/>
<line x1="260.04" y1="464.2" x2="260.04" y2="468.2" stroke="#a23434" stroke-width="1"/>
<polygon points="257.74,467.7 262.34,467.7 260.04,471.7" fill="#a23434" stroke="#a23434" stroke-width="1" stroke-linejoin="miter"/>
<rect x="250.04" y="472.5" width="6" height="2.4" fill="#a23434"/>
<rect x="256.74" y="472.5" width="6.8" height="2.4" fill="#a23434"/>
<rect x="264.34" y="472.5" width="5.8" height="2.4" fill="#a23434"/>
<line x1="250.54" y1="478.2" x2="270.04" y2="478.2" stroke="#a23434" stroke-width="1.4"/>
<line x1="270.04" y1="478.2" x2="270.04" y2="483.7" stroke="#a23434" stroke-width="1.4"/>
<line x1="267.34" y1="464.2" x2="278.54" y2="464.2" stroke="#c06868" stroke-width="1"/>
<text x="251.04" y="489.12" font-size="9.5" fill="#b3b3b3" text-anchor="middle">T3</text>
<polyline points="201,513.3 231.31,513.3" fill="none" stroke="#3b9f3b" stroke-width="3"/>
<circle cx="201" cy="513.3" r="2.3" fill="#3b9f3b"/>
<line x1="231.31" y1="513.3" x2="242.81" y2="513.3" stroke="#c06868" stroke-width="1"/>
<circle cx="242.81" cy="513.3" r="1.3" fill="#a23434"/>
<line x1="242.81" y1="503.5" x2="242.81" y2="522.8" stroke="#a23434" stroke-width="1.2"/>
<line x1="242.81" y1="503.5" x2="257.61" y2="503.5" stroke="#a23434" stroke-width="1.2"/>
<line x1="257.61" y1="503.5" x2="257.61" y2="522.8" stroke="#a23434" stroke-width="1.2"/>
<circle cx="257.61" cy="513.3" r="1.3" fill="#a23434"/>
<polygon points="254.51,500.5 254.51,506.5 249.51,503.5" fill="none" stroke="#a23434" stroke-width="1" stroke-linejoin="miter"/>
<line x1="249.51" y1="500.5" x2="249.51" y2="506.5" stroke="#a23434" stroke-width="1"/>
<line x1="249.51" y1="500.5" x2="248.31" y2="499.3" stroke="#a23434" stroke-width="0.9"/>
<line x1="249.51" y1="506.5" x2="250.71" y2="507.7" stroke="#a23434" stroke-width="0.9"/>
<line x1="257.61" y1="513.3" x2="250.31" y2="513.3" stroke="#a23434" stroke-width="1"/>
<line x1="250.31" y1="513.3" x2="250.31" y2="517.3" stroke="#a23434" stroke-width="1"/>
<polygon points="248.01,516.8 252.61,516.8 250.31,520.8" fill="#a23434" stroke="#a23434" stroke-width="1" stroke-linejoin="miter"/>
<rect x="240.31" y="521.6" width="6" height="2.4" fill="#a23434"/>
<rect x="247.01" y="521.6" width="6.8" height="2.4" fill="#a23434"/>
<rect x="254.61" y="521.6" width="5.8" height="2.4" fill="#a23434"/>
<line x1="240.81" y1="527.3" x2="260.31" y2="527.3" stroke="#a23434" stroke-width="1.4"/>
<line x1="260.31" y1="527.3" x2="260.31" y2="532.8" stroke="#a23434" stroke-width="1.4"/>
<line x1="257.61" y1="513.3" x2="268.81" y2="513.3" stroke="#c06868" stroke-width="1"/>
<text x="241.31" y="538.22" font-size="9.5" fill="#b3b3b3" text-anchor="middle">T2</text>
<polyline points="201,562.4 221.58,562.4" fill="none" stroke="#3b9f3b" stroke-width="3"/>
<circle cx="201" cy="562.4" r="2.3" fill="#3b9f3b"/>
<line x1="221.58" y1="562.4" x2="233.08" y2="562.4" stroke="#c06868" stroke-width="1"/>
<circle cx="233.08" cy="562.4" r="1.3" fill="#a23434"/>
<line x1="233.08" y1="552.6" x2="233.08" y2="571.9" stroke="#a23434" stroke-width="1.2"/>
<line x1="233.08" y1="552.6" x2="247.88" y2="552.6" stroke="#a23434" stroke-width="1.2"/>
<line x1="247.88" y1="552.6" x2="247.88" y2="571.9" stroke="#a23434" stroke-width="1.2"/>
<circle cx="247.88" cy="562.4" r="1.3" fill="#a23434"/>
<polygon points="244.78,549.6 244.78,555.6 239.78,552.6" fill="none" stroke="#a23434" stroke-width="1" stroke-linejoin="miter"/>
<line x1="239.78" y1="549.6" x2="239.78" y2="555.6" stroke="#a23434" stroke-width="1"/>
<line x1="239.78" y1="549.6" x2="238.58" y2="548.4" stroke="#a23434" stroke-width="0.9"/>
<line x1="239.78" y1="555.6" x2="240.98" y2="556.8" stroke="#a23434" stroke-width="0.9"/>
<line x1="247.88" y1="562.4" x2="240.58" y2="562.4" stroke="#a23434" stroke-width="1"/>
<line x1="240.58" y1="562.4" x2="240.58" y2="566.4" stroke="#a23434" stroke-width="1"/>
<polygon points="238.28,565.9 242.88,565.9 240.58,569.9" fill="#a23434" stroke="#a23434" stroke-width="1" stroke-linejoin="miter"/>
<rect x="230.58" y="570.7" width="6" height="2.4" fill="#a23434"/>
<rect x="237.28" y="570.7" width="6.8" height="2.4" fill="#a23434"/>
<rect x="244.88" y="570.7" width="5.8" height="2.4" fill="#a23434"/>
<line x1="231.08" y1="576.4" x2="250.58" y2="576.4" stroke="#a23434" stroke-width="1.4"/>
<line x1="250.58" y1="576.4" x2="250.58" y2="581.9" stroke="#a23434" stroke-width="1.4"/>
<line x1="247.88" y1="562.4" x2="259.08" y2="562.4" stroke="#c06868" stroke-width="1"/>
<text x="231.58" y="587.32" font-size="9.5" fill="#b3b3b3" text-anchor="middle">T1</text>
<polyline points="201,611.5 211.85,611.5" fill="none" stroke="#3b9f3b" stroke-width="3"/>
<circle cx="201" cy="611.5" r="2.3" fill="#3b9f3b"/>
<line x1="211.85" y1="611.5" x2="223.35" y2="611.5" stroke="#c06868" stroke-width="1"/>
<circle cx="223.35" cy="611.5" r="1.3" fill="#a23434"/>
<line x1="223.35" y1="601.7" x2="223.35" y2="621" stroke="#a23434" stroke-width="1.2"/>
<line x1="223.35" y1="601.7" x2="238.15" y2="601.7" stroke="#a23434" stroke-width="1.2"/>
<line x1="238.15" y1="601.7" x2="238.15" y2="621" stroke="#a23434" stroke-width="1.2"/>
<circle cx="238.15" cy="611.5" r="1.3" fill="#a23434"/>
<polygon points="235.05,598.7 235.05,604.7 230.05,601.7" fill="none" stroke="#a23434" stroke-width="1" stroke-linejoin="miter"/>
<line x1="230.05" y1="598.7" x2="230.05" y2="604.7" stroke="#a23434" stroke-width="1"/>
<line x1="230.05" y1="598.7" x2="228.85" y2="597.5" stroke="#a23434" stroke-width="0.9"/>
<line x1="230.05" y1="604.7" x2="231.25" y2="605.9" stroke="#a23434" stroke-width="0.9"/>
<line x1="238.15" y1="611.5" x2="230.85" y2="611.5" stroke="#a23434" stroke-width="1"/>
<line x1="230.85" y1="611.5" x2="230.85" y2="615.5" stroke="#a23434" stroke-width="1"/>
<polygon points="228.55,615 233.15,615 230.85,619" fill="#a23434" stroke="#a23434" stroke-width="1" stroke-linejoin="miter"/>
<rect x="220.85" y="619.8" width="6" height="2.4" fill="#a23434"/>
<rect x="227.55" y="619.8" width="6.8" height="2.4" fill="#a23434"/>
<rect x="235.15" y="619.8" width="5.8" height="2.4" fill="#a23434"/>
<line x1="221.35" y1="625.5" x2="240.85" y2="625.5" stroke="#a23434" stroke-width="1.4"/>
<line x1="240.85" y1="625.5" x2="240.85" y2="631" stroke="#a23434" stroke-width="1.4"/>
<line x1="238.15" y1="611.5" x2="249.35" y2="611.5" stroke="#c06868" stroke-width="1"/>
<text x="280" y="340.92" font-size="9.5" fill="#b3b3b3" text-anchor="middle">T6</text>
<polyline points="289.5,385.5 289.5,631" fill="none" stroke="#5db25d" stroke-width="1"/>
<line x1="289.5" y1="631" x2="289.5" y2="639.5" stroke="#c06868" stroke-width="1"/>
<rect x="285.9" y="639.5" width="7.2" height="20" fill="none" stroke="#a23434" stroke-width="1.35"/>
<line x1="289.5" y1="659.5" x2="289.5" y2="669" stroke="#c06868" stroke-width="1"/>
<polyline points="289.5,669 289.5,679" fill="none" stroke="#5db25d" stroke-width="1"/>
<polyline points="279.77,434.6 279.77,631" fill="none" stroke="#5db25d" stroke-width="1"/>
<line x1="279.77" y1="631" x2="279.77" y2="639.5" stroke="#c06868" stroke-width="1"/>
<rect x="276.17" y="639.5" width="7.2" height="20" fill="none" stroke="#a23434" stroke-width="1.35"/>
<line x1="279.77" y1="659.5" x2="279.77" y2="669" stroke="#c06868" stroke-width="1"/>
<polyline points="279.77,669 279.77,679" fill="none" stroke="#5db25d" stroke-width="1"/>
<polyline points="270.04,483.7 270.04,631" fill="none" stroke="#5db25d" stroke-width="1"/>
<line x1="270.04" y1="631" x2="270.04" y2="639.5" stroke="#c06868" stroke-width="1"/>
<rect x="266.44" y="639.5" width="7.2" height="20" fill="none" stroke="#a23434" stroke-width="1.35"/>
<line x1="270.04" y1="659.5" x2="270.04" y2="669" stroke="#c06868" stroke-width="1"/>
<polyline points="270.04,669 270.04,679" fill="none" stroke="#5db25d" stroke-width="1"/>
<polyline points="260.31,532.8 260.31,631" fill="none" stroke="#5db25d" stroke-width="1"/>
<line x1="260.31" y1="631" x2="260.31" y2="639.5" stroke="#c06868" stroke-width="1"/>
<rect x="256.71" y="639.5" width="7.2" height="20" fill="none" stroke="#a23434" stroke-width="1.35"/>
<line x1="260.31" y1="659.5" x2="260.31" y2="669" stroke="#c06868" stroke-width="1"/>
<polyline points="260.31,669 260.31,679" fill="none" stroke="#5db25d" stroke-width="1"/>
<polyline points="250.58,581.9 250.58,631" fill="none" stroke="#5db25d" stroke-width="1"/>
<line x1="250.58" y1="631" x2="250.58" y2="639.5" stroke="#c06868" stroke-width="1"/>
<rect x="246.98" y="639.5" width="7.2" height="20" fill="none" stroke="#a23434" stroke-width="1.35"/>
<line x1="250.58" y1="659.5" x2="250.58" y2="669" stroke="#c06868" stroke-width="1"/>
<polyline points="250.58,669 250.58,679" fill="none" stroke="#5db25d" stroke-width="1"/>
<polyline points="240.85,631 240.85,631" fill="none" stroke="#5db25d" stroke-width="1"/>
<line x1="240.85" y1="631" x2="240.85" y2="639.5" stroke="#c06868" stroke-width="1"/>
<rect x="237.25" y="639.5" width="7.2" height="20" fill="none" stroke="#a23434" stroke-width="1.35"/>
<line x1="240.85" y1="659.5" x2="240.85" y2="669" stroke="#c06868" stroke-width="1"/>
<polyline points="240.85,669 240.85,679" fill="none" stroke="#5db25d" stroke-width="1"/>
<polyline points="240.5,679 299,679" fill="none" stroke="#5db25d" stroke-width="1"/>
<circle cx="250.5" cy="679" r="2.4" fill="#40a040"/>
<circle cx="260.2" cy="679" r="2.4" fill="#40a040"/>
<circle cx="269.7" cy="679" r="2.4" fill="#40a040"/>
<circle cx="279.5" cy="679" r="2.4" fill="#40a040"/>
<circle cx="289.2" cy="679" r="2.4" fill="#40a040"/>
<text x="234.24" y="660" font-size="9" fill="#b3b3b3" text-anchor="middle" transform="rotate(-90 234.24 660)">R1</text>
<text x="243.86" y="654.5" font-size="8.5" fill="#b8b8b8" text-anchor="middle" transform="rotate(-90 243.86 654.5)">R3</text>
<text x="253.56" y="654.5" font-size="8.5" fill="#b8b8b8" text-anchor="middle" transform="rotate(-90 253.56 654.5)">R4</text>
<text x="263.26" y="654.5" font-size="8.5" fill="#b8b8b8" text-anchor="middle" transform="rotate(-90 263.26 654.5)">R5</text>
<text x="272.96" y="654.5" font-size="8.5" fill="#b8b8b8" text-anchor="middle" transform="rotate(-90 272.96 654.5)">R6</text>
<text x="282.76" y="654.5" font-size="8.5" fill="#b8b8b8" text-anchor="middle" transform="rotate(-90 282.76 654.5)">R7</text>
<polyline points="298,366 329,366" fill="none" stroke="#3b9f3b" stroke-width="3"/>
<circle cx="318.5" cy="366" r="2.6" fill="#40a040"/>
<line x1="329" y1="366" x2="337.5" y2="366" stroke="#c06868" stroke-width="1"/>
<rect x="337.5" y="362.8" width="20.3" height="6.4" fill="none" stroke="#a23434" stroke-width="1.35"/>
<line x1="358" y1="366" x2="367" y2="366" stroke="#c06868" stroke-width="1"/>
<polyline points="367,366 377,366" fill="none" stroke="#3b9f3b" stroke-width="3"/>
<text x="350.9" y="360.74" font-size="9" fill="#b3b3b3" text-anchor="start">R7</text>
<polyline points="318.5,366 318.5,395.5 397,395.5" fill="none" stroke="#5db25d" stroke-width="1"/>
<line x1="397" y1="395.5" x2="406" y2="395.5" stroke="#c06868" stroke-width="1"/>
<rect x="406" y="392.3" width="20.3" height="6.4" fill="none" stroke="#a23434" stroke-width="1.35"/>
<line x1="426.5" y1="395.5" x2="436" y2="395.5" stroke="#c06868" stroke-width="1"/>
<polyline points="436,395.5 445.5,395.5" fill="none" stroke="#5db25d" stroke-width="1"/>
<text x="401.8" y="390.24" font-size="9" fill="#b3b3b3" text-anchor="start">R19</text>
<polyline points="288.27,415.1 329,415.1" fill="none" stroke="#3b9f3b" stroke-width="3"/>
<circle cx="318.5" cy="415.1" r="2.6" fill="#40a040"/>
<line x1="329" y1="415.1" x2="337.5" y2="415.1" stroke="#c06868" stroke-width="1"/>
<rect x="337.5" y="411.9" width="20.3" height="6.4" fill="none" stroke="#a23434" stroke-width="1.35"/>
<line x1="358" y1="415.1" x2="367" y2="415.1" stroke="#c06868" stroke-width="1"/>
<polyline points="367,415.1 377,415.1" fill="none" stroke="#3b9f3b" stroke-width="3"/>
<circle cx="377" cy="415.1" r="2.4" fill="#40a040"/>
<text x="350.9" y="409.84" font-size="9" fill="#b3b3b3" text-anchor="start">R6</text>
<polyline points="318.5,415.1 318.5,444.6 397,444.6" fill="none" stroke="#5db25d" stroke-width="1"/>
<line x1="397" y1="444.6" x2="406" y2="444.6" stroke="#c06868" stroke-width="1"/>
<rect x="406" y="441.4" width="20.3" height="6.4" fill="none" stroke="#a23434" stroke-width="1.35"/>
<line x1="426.5" y1="444.6" x2="436" y2="444.6" stroke="#c06868" stroke-width="1"/>
<polyline points="436,444.6 445.5,444.6" fill="none" stroke="#5db25d" stroke-width="1"/>
<circle cx="445.5" cy="444.6" r="2.4" fill="#40a040"/>
<text x="401.8" y="439.34" font-size="9" fill="#b3b3b3" text-anchor="start">R12</text>
<polyline points="278.54,464.2 329,464.2" fill="none" stroke="#3b9f3b" stroke-width="3"/>
<circle cx="318.5" cy="464.2" r="2.6" fill="#40a040"/>
<line x1="329" y1="464.2" x2="337.5" y2="464.2" stroke="#c06868" stroke-width="1"/>
<rect x="337.5" y="461" width="20.3" height="6.4" fill="none" stroke="#a23434" stroke-width="1.35"/>
<line x1="358" y1="464.2" x2="367" y2="464.2" stroke="#c06868" stroke-width="1"/>
<polyline points="367,464.2 377,464.2" fill="none" stroke="#3b9f3b" stroke-width="3"/>
<circle cx="377" cy="464.2" r="2.4" fill="#40a040"/>
<text x="350.9" y="458.94" font-size="9" fill="#b3b3b3" text-anchor="start">R5</text>
<polyline points="318.5,464.2 318.5,493.7 397,493.7" fill="none" stroke="#5db25d" stroke-width="1"/>
<line x1="397" y1="493.7" x2="406" y2="493.7" stroke="#c06868" stroke-width="1"/>
<rect x="406" y="490.5" width="20.3" height="6.4" fill="none" stroke="#a23434" stroke-width="1.35"/>
<line x1="426.5" y1="493.7" x2="436" y2="493.7" stroke="#c06868" stroke-width="1"/>
<polyline points="436,493.7 445.5,493.7" fill="none" stroke="#5db25d" stroke-width="1"/>
<circle cx="445.5" cy="493.7" r="2.4" fill="#40a040"/>
<text x="401.8" y="488.44" font-size="9" fill="#b3b3b3" text-anchor="start">R11</text>
<polyline points="268.81,513.3 329,513.3" fill="none" stroke="#3b9f3b" stroke-width="3"/>
<circle cx="318.5" cy="513.3" r="2.6" fill="#40a040"/>
<line x1="329" y1="513.3" x2="337.5" y2="513.3" stroke="#c06868" stroke-width="1"/>
<rect x="337.5" y="510.1" width="20.3" height="6.4" fill="none" stroke="#a23434" stroke-width="1.35"/>
<line x1="358" y1="513.3" x2="367" y2="513.3" stroke="#c06868" stroke-width="1"/>
<polyline points="367,513.3 377,513.3" fill="none" stroke="#3b9f3b" stroke-width="3"/>
<circle cx="377" cy="513.3" r="2.4" fill="#40a040"/>
<text x="350.9" y="508.04" font-size="9" fill="#b3b3b3" text-anchor="start">R4</text>
<polyline points="318.5,513.3 318.5,542.8 397,542.8" fill="none" stroke="#5db25d" stroke-width="1"/>
<line x1="397" y1="542.8" x2="406" y2="542.8" stroke="#c06868" stroke-width="1"/>
<rect x="406" y="539.6" width="20.3" height="6.4" fill="none" stroke="#a23434" stroke-width="1.35"/>
<line x1="426.5" y1="542.8" x2="436" y2="542.8" stroke="#c06868" stroke-width="1"/>
<polyline points="436,542.8 445.5,542.8" fill="none" stroke="#5db25d" stroke-width="1"/>
<circle cx="445.5" cy="542.8" r="2.4" fill="#40a040"/>
<text x="401.8" y="537.54" font-size="9" fill="#b3b3b3" text-anchor="start">R10</text>
<polyline points="259.08,562.4 329,562.4" fill="none" stroke="#3b9f3b" stroke-width="3"/>
<circle cx="318.5" cy="562.4" r="2.6" fill="#40a040"/>
<line x1="329" y1="562.4" x2="337.5" y2="562.4" stroke="#c06868" stroke-width="1"/>
<rect x="337.5" y="559.2" width="20.3" height="6.4" fill="none" stroke="#a23434" stroke-width="1.35"/>
<line x1="358" y1="562.4" x2="367" y2="562.4" stroke="#c06868" stroke-width="1"/>
<polyline points="367,562.4 377,562.4" fill="none" stroke="#3b9f3b" stroke-width="3"/>
<circle cx="377" cy="562.4" r="2.4" fill="#40a040"/>
<text x="350.9" y="557.14" font-size="9" fill="#b3b3b3" text-anchor="start">R3</text>
<polyline points="318.5,562.4 318.5,591.9 397,591.9" fill="none" stroke="#5db25d" stroke-width="1"/>
<line x1="397" y1="591.9" x2="406" y2="591.9" stroke="#c06868" stroke-width="1"/>
<rect x="406" y="588.7" width="20.3" height="6.4" fill="none" stroke="#a23434" stroke-width="1.35"/>
<line x1="426.5" y1="591.9" x2="436" y2="591.9" stroke="#c06868" stroke-width="1"/>
<polyline points="436,591.9 445.5,591.9" fill="none" stroke="#5db25d" stroke-width="1"/>
<circle cx="445.5" cy="591.9" r="2.4" fill="#40a040"/>
<text x="401.8" y="586.64" font-size="9" fill="#b3b3b3" text-anchor="start">R9</text>
<polyline points="249.35,611.5 329,611.5" fill="none" stroke="#3b9f3b" stroke-width="3"/>
<circle cx="318.5" cy="611.5" r="2.6" fill="#40a040"/>
<line x1="329" y1="611.5" x2="337.5" y2="611.5" stroke="#c06868" stroke-width="1"/>
<rect x="337.5" y="608.3" width="20.3" height="6.4" fill="none" stroke="#a23434" stroke-width="1.35"/>
<line x1="358" y1="611.5" x2="367" y2="611.5" stroke="#c06868" stroke-width="1"/>
<polyline points="367,611.5 377,611.5" fill="none" stroke="#3b9f3b" stroke-width="3"/>
<circle cx="377" cy="611.5" r="2.4" fill="#40a040"/>
<text x="350.9" y="606.24" font-size="9" fill="#b3b3b3" text-anchor="start">R2</text>
<polyline points="318.5,611.5 318.5,630 397,630" fill="none" stroke="#5db25d" stroke-width="1"/>
<line x1="397" y1="630" x2="406" y2="630" stroke="#c06868" stroke-width="1"/>
<rect x="406" y="626.8" width="20.3" height="6.4" fill="none" stroke="#a23434" stroke-width="1.35"/>
<line x1="426.5" y1="630" x2="436" y2="630" stroke="#c06868" stroke-width="1"/>
<polyline points="436,630 445.5,630" fill="none" stroke="#5db25d" stroke-width="1"/>
<circle cx="445.5" cy="630" r="2.4" fill="#40a040"/>
<text x="401.8" y="624.74" font-size="9" fill="#b3b3b3" text-anchor="start">R8</text>
<polyline points="377,366 377,610.5" fill="none" stroke="#3b9f3b" stroke-width="3"/>
<polyline points="377,366 484.5,366 484.5,502.5 856,502.5" fill="none" stroke="#3b9f3b" stroke-width="3"/>
<polyline points="445.5,395.5 445.5,669 425.5,669" fill="none" stroke="#5db25d" stroke-width="1"/>
<polyline points="445.5,591 475,591" fill="none" stroke="#5db25d" stroke-width="1"/>
<line x1="475" y1="591" x2="484.5" y2="591" stroke="#c06868" stroke-width="1"/>
<polygon points="484.5,581.5 484.5,620.7 524,601.1" fill="none" stroke="#a23434" stroke-width="2.2" stroke-linejoin="miter"/>
<line x1="487.5" y1="591.8" x2="492.5" y2="591.8" stroke="#a23434" stroke-width="1"/>
<line x1="490" y1="589.3" x2="490" y2="594.3" stroke="#a23434" stroke-width="1"/>
<line x1="487.5" y1="610.9" x2="492.5" y2="610.9" stroke="#a23434" stroke-width="1"/>
<text x="480" y="588.34" font-size="9" fill="#b3b3b3" text-anchor="middle">12</text>
<text x="480" y="607.84" font-size="9" fill="#b3b3b3" text-anchor="middle">13</text>
<text x="529.5" y="598.84" font-size="9" fill="#b3b3b3" text-anchor="middle">14</text>
<text x="523.5" y="588.74" font-size="9" fill="#b3b3b3" text-anchor="middle">IC4D</text>
<line x1="475" y1="610.5" x2="484.5" y2="610.5" stroke="#c06868" stroke-width="1"/>
<polyline points="475,610.5 465,610.5 465,630 543.5,630 543.5,601" fill="none" stroke="#5db25d" stroke-width="1"/>
<line x1="524" y1="601" x2="533.5" y2="601" stroke="#c06868" stroke-width="1"/>
<polyline points="533.5,601 612,601" fill="none" stroke="#5db25d" stroke-width="1"/>
<circle cx="543.5" cy="601" r="2.4" fill="#40a040"/>
<line x1="612" y1="601" x2="621" y2="601" stroke="#c06868" stroke-width="1"/>
<rect x="621" y="597.8" width="20.3" height="6.4" fill="none" stroke="#a23434" stroke-width="1.35"/>
<line x1="641.5" y1="601" x2="650.5" y2="601" stroke="#c06868" stroke-width="1"/>
<polyline points="650.5,601 785.5,601" fill="none" stroke="#5db25d" stroke-width="1"/>
<text x="617" y="595.24" font-size="9" fill="#b3b3b3" text-anchor="start">R31</text>
<polyline points="562.5,630 623,630" fill="none" stroke="#5db25d" stroke-width="1"/>
<circle cx="562.5" cy="630" r="2.4" fill="#40a040"/>
<rect x="607" y="620.5" width="29.5" height="19.5" fill="none" stroke="#a23434" stroke-width="2"/>
<circle cx="627" cy="630" r="3.9" fill="none" stroke="#a23434" stroke-width="1"/>
<text x="619.5" y="628.34" font-size="9" fill="#b3b3b3" text-anchor="middle">1</text>
<text x="611" y="618.24" font-size="9" fill="#b3b3b3" text-anchor="middle">J2</text>
<line x1="562.5" y1="640" x2="562.5" y2="649" stroke="#c06868" stroke-width="1"/>
<rect x="559.3" y="649" width="6.4" height="20" fill="none" stroke="#a23434" stroke-width="1.35"/>
<line x1="562.5" y1="669" x2="562.5" y2="679" stroke="#c06868" stroke-width="1"/>
<polyline points="562.5,679 562.5,727" fill="none" stroke="#5db25d" stroke-width="1"/>
<text x="557.24" y="664.8" font-size="9" fill="#b3b3b3" text-anchor="middle" transform="rotate(-90 557.24 664.8)">R33</text>
<circle cx="562.5" cy="688.5" r="2.4" fill="#40a040"/>
<polyline points="416,689 562.5,689" fill="none" stroke="#5db25d" stroke-width="1"/>
<line x1="592" y1="670" x2="592" y2="678.5" stroke="#c06868" stroke-width="1"/>
<rect x="588.8" y="678.5" width="6.4" height="20" fill="none" stroke="#a23434" stroke-width="1.35"/>
<line x1="592" y1="698.5" x2="592" y2="708" stroke="#c06868" stroke-width="1"/>
<polyline points="592,708 592,728" fill="none" stroke="#5db25d" stroke-width="1"/>
<circle cx="592" cy="718" r="2.4" fill="#40a040"/>
<text x="585.24" y="694.5" font-size="9" fill="#b3b3b3" text-anchor="middle" transform="rotate(-90 585.24 694.5)">R39</text>
<polyline points="201,366 201,640" fill="none" stroke="#3b9f3b" stroke-width="3"/>
<line x1="201.5" y1="640" x2="201.5" y2="644" stroke="#c06868" stroke-width="1"/>
<rect x="198.3" y="644" width="6.4" height="29.5" fill="none" stroke="#a23434" stroke-width="1.5"/>
<line x1="201.5" y1="644" x2="201.5" y2="673.5" stroke="#a23434" stroke-width="0.9"/>
<line x1="201.5" y1="673.5" x2="201.5" y2="678" stroke="#c06868" stroke-width="1"/>
<polyline points="201.5,678 201.5,698.5" fill="none" stroke="#3b9f3b" stroke-width="3"/>
<text x="196.74" y="668" font-size="9" fill="#b3b3b3" text-anchor="middle" transform="rotate(-90 196.74 668)">F1</text>
<polyline points="201.5,698.5 240.5,698.5 240.5,757" fill="none" stroke="#5db25d" stroke-width="1"/>
<line x1="240.5" y1="757" x2="240.5" y2="766.5" stroke="#c06868" stroke-width="1"/>
<rect x="237.3" y="766.5" width="6.4" height="20" fill="none" stroke="#a23434" stroke-width="1.35"/>
<line x1="240.5" y1="786.5" x2="240.5" y2="796" stroke="#c06868" stroke-width="1"/>
<polyline points="240.5,796 240.5,825.5" fill="none" stroke="#5db25d" stroke-width="1"/>
<circle cx="240.5" cy="825.5" r="2.4" fill="#40a040"/>
<text x="234.74" y="782" font-size="9" fill="#b3b3b3" text-anchor="middle" transform="rotate(-90 234.74 782)">R35</text>
<polyline points="269.7,679 269.7,767.5 279,767.5" fill="none" stroke="#5db25d" stroke-width="1"/>
<circle cx="269.7" cy="698.5" r="2.4" fill="#40a040"/>
<circle cx="269.7" cy="747.5" r="2.4" fill="#40a040"/>
<polygon points="274.5,693.5 274.5,703.5 284.5,698.5" fill="none" stroke="#a23434" stroke-width="1.5" stroke-linejoin="miter"/>
<line x1="284.5" y1="693" x2="284.5" y2="704" stroke="#a23434" stroke-width="1.6"/>
<line x1="284.5" y1="698.5" x2="289" y2="698.5" stroke="#c06868" stroke-width="1"/>
<polyline points="289,698.5 347.5,698.5 347.5,649.5 366,649.5" fill="none" stroke="#5db25d" stroke-width="1"/>
<text x="294" y="696.24" font-size="9" fill="#b3b3b3" text-anchor="middle">D7</text>
<circle cx="318.5" cy="698.5" r="2.4" fill="#40a040"/>
<circle cx="347.5" cy="698.5" r="2.4" fill="#40a040"/>
<line x1="299" y1="679" x2="308" y2="679" stroke="#c06868" stroke-width="1"/>
<rect x="308" y="675.8" width="20.3" height="6.4" fill="none" stroke="#a23434" stroke-width="1.35"/>
<line x1="328.5" y1="679" x2="338" y2="679" stroke="#c06868" stroke-width="1"/>
<polyline points="338,679 357,679" fill="none" stroke="#5db25d" stroke-width="1"/>
<circle cx="347.5" cy="679" r="2.4" fill="#40a040"/>
<text x="312" y="671.74" font-size="9" fill="#b3b3b3" text-anchor="middle">R22</text>
<polygon points="406.5,659.5 406.5,698.7 367,679.1" fill="none" stroke="#a23434" stroke-width="2.2" stroke-linejoin="miter"/>
<line x1="403.5" y1="688.9" x2="398.5" y2="688.9" stroke="#a23434" stroke-width="1"/>
<line x1="401" y1="686.4" x2="401" y2="691.4" stroke="#a23434" stroke-width="1"/>
<line x1="403.5" y1="669.8" x2="398.5" y2="669.8" stroke="#a23434" stroke-width="1"/>
<line x1="357" y1="679" x2="367" y2="679" stroke="#c06868" stroke-width="1"/>
<text x="362" y="676.84" font-size="9" fill="#b3b3b3" text-anchor="middle">1</text>
<text x="410" y="666.84" font-size="9" fill="#b3b3b3" text-anchor="middle">2</text>
<text x="410" y="686.34" font-size="9" fill="#b3b3b3" text-anchor="middle">3</text>
<text x="367" y="699.24" font-size="9" fill="#b3b3b3" text-anchor="middle">IC4A</text>
<line x1="406.5" y1="669" x2="416" y2="669" stroke="#c06868" stroke-width="1"/>
<polyline points="416,669 425.5,669" fill="none" stroke="#5db25d" stroke-width="1"/>
<circle cx="425.5" cy="669" r="2.4" fill="#40a040"/>
<polyline points="425.5,669 425.5,649.5 396,649.5" fill="none" stroke="#5db25d" stroke-width="1"/>
<line x1="366" y1="649.5" x2="376" y2="649.5" stroke="#c06868" stroke-width="1"/>
<rect x="378.8" y="641.5" width="3.25" height="16" fill="#a23434"/>
<rect x="382.95" y="641.5" width="3.25" height="16" fill="#a23434"/>
<line x1="386.5" y1="649.5" x2="396" y2="649.5" stroke="#c06868" stroke-width="1"/>
<text x="375.74" y="640" font-size="9" fill="#b3b3b3" text-anchor="middle" transform="rotate(-90 375.74 640)">C6</text>
<line x1="406.5" y1="689" x2="416" y2="689" stroke="#c06868" stroke-width="1"/>
<polyline points="269.7,747.5 279,747.5" fill="none" stroke="#5db25d" stroke-width="1"/>
<line x1="279" y1="747.5" x2="279" y2="747.5" stroke="#c06868" stroke-width="1"/>
<rect x="279" y="744.3" width="20.3" height="6.4" fill="none" stroke="#a23434" stroke-width="1.35"/>
<line x1="299.5" y1="747.5" x2="308.5" y2="747.5" stroke="#c06868" stroke-width="1"/>
<polyline points="308.5,747.5 357,747.5" fill="none" stroke="#5db25d" stroke-width="1"/>
<text x="283" y="740.74" font-size="9" fill="#b3b3b3" text-anchor="middle">R18</text>
<circle cx="347.5" cy="747.5" r="2.4" fill="#40a040"/>
<line x1="279" y1="767.5" x2="284" y2="767.5" stroke="#c06868" stroke-width="1"/>
<polygon points="284,762.5 284,772.5 294,767.5" fill="none" stroke="#a23434" stroke-width="1.5" stroke-linejoin="miter"/>
<line x1="294" y1="762" x2="294" y2="773" stroke="#a23434" stroke-width="1.6"/>
<line x1="294" y1="767.5" x2="298" y2="767.5" stroke="#c06868" stroke-width="1"/>
<polyline points="298,767.5 347.5,767.5" fill="none" stroke="#5db25d" stroke-width="1"/>
<circle cx="347.5" cy="767.5" r="2.4" fill="#40a040"/>
<text x="305" y="764.74" font-size="9" fill="#b3b3b3" text-anchor="middle">D8</text>
<polyline points="318.5,698.5 318.5,777" fill="none" stroke="#5db25d" stroke-width="1"/>
<line x1="318.5" y1="777" x2="318.5" y2="786.5" stroke="#c06868" stroke-width="1"/>
<rect x="315.3" y="786.5" width="6.4" height="19.5" fill="none" stroke="#a23434" stroke-width="1.35"/>
<line x1="318.5" y1="806" x2="318.5" y2="815" stroke="#c06868" stroke-width="1"/>
<polyline points="318.5,815 318.5,864.5 348,864.5" fill="none" stroke="#5db25d" stroke-width="1"/>
<line x1="348" y1="864.5" x2="357" y2="864.5" stroke="#c06868" stroke-width="1"/>
<text x="331.04" y="789.3" font-size="9" fill="#b3b3b3" text-anchor="middle" transform="rotate(-90 331.04 789.3)">R32</text>
<polyline points="347.5,718 347.5,777" fill="none" stroke="#5db25d" stroke-width="1"/>
<line x1="347.5" y1="777" x2="347.5" y2="786.5" stroke="#c06868" stroke-width="1"/>
<rect x="344.3" y="786.5" width="6.4" height="19.5" fill="none" stroke="#a23434" stroke-width="1.35"/>
<line x1="347.5" y1="806" x2="347.5" y2="815" stroke="#c06868" stroke-width="1"/>
<polyline points="347.5,815 347.5,845 348,845" fill="none" stroke="#5db25d" stroke-width="1"/>
<line x1="348" y1="845" x2="357" y2="845" stroke="#c06868" stroke-width="1"/>
<text x="360.44" y="789.3" font-size="9" fill="#b3b3b3" text-anchor="middle" transform="rotate(-90 360.44 789.3)">R24</text>
<polyline points="347.5,718 367,718" fill="none" stroke="#5db25d" stroke-width="1"/>
<line x1="367" y1="718" x2="379" y2="718" stroke="#c06868" stroke-width="1"/>
<rect x="378.8" y="710" width="3.25" height="16" fill="#a23434"/>
<rect x="382.95" y="710" width="3.25" height="16" fill="#a23434"/>
<line x1="386.5" y1="718" x2="397" y2="718" stroke="#c06868" stroke-width="1"/>
<polyline points="397,718 436,718" fill="none" stroke="#5db25d" stroke-width="1"/>
<circle cx="425.5" cy="718" r="2.4" fill="#40a040"/>
<text x="375.74" y="708" font-size="9" fill="#b3b3b3" text-anchor="middle" transform="rotate(-90 375.74 708)">C8</text>
<line x1="357" y1="747.5" x2="367" y2="747.5" stroke="#c06868" stroke-width="1"/>
<polygon points="406.5,728 406.5,767.5 367,747.75" fill="none" stroke="#a23434" stroke-width="2.2" stroke-linejoin="miter"/>
<line x1="403.5" y1="757.62" x2="398.5" y2="757.62" stroke="#a23434" stroke-width="1"/>
<line x1="401" y1="755.12" x2="401" y2="760.12" stroke="#a23434" stroke-width="1"/>
<line x1="403.5" y1="738.38" x2="398.5" y2="738.38" stroke="#a23434" stroke-width="1"/>
<text x="362" y="745.34" font-size="9" fill="#b3b3b3" text-anchor="middle">7</text>
<text x="410" y="735.34" font-size="9" fill="#b3b3b3" text-anchor="middle">6</text>
<text x="410" y="754.84" font-size="9" fill="#b3b3b3" text-anchor="middle">5</text>
<text x="367" y="766.74" font-size="9" fill="#b3b3b3" text-anchor="middle">IC4B</text>
<line x1="406.5" y1="737.5" x2="416" y2="737.5" stroke="#c06868" stroke-width="1"/>
<polyline points="416,737.5 425.5,737.5 425.5,718" fill="none" stroke="#5db25d" stroke-width="1"/>
<line x1="406.5" y1="757" x2="416" y2="757" stroke="#c06868" stroke-width="1"/>
<polyline points="416,757 436,757" fill="none" stroke="#5db25d" stroke-width="1"/>
<circle cx="425.5" cy="757" r="2.4" fill="#40a040"/>
<line x1="436" y1="718" x2="445" y2="718" stroke="#c06868" stroke-width="1"/>
<rect x="445" y="714.8" width="20.3" height="6.4" fill="none" stroke="#a23434" stroke-width="1.35"/>
<line x1="465.5" y1="718" x2="475" y2="718" stroke="#c06868" stroke-width="1"/>
<polyline points="475,718 484.5,718 484.5,718" fill="none" stroke="#5db25d" stroke-width="1"/>
<line x1="484.5" y1="718" x2="484.5" y2="727.5" stroke="#c06868" stroke-width="1"/>
<line x1="477" y1="727.5" x2="492" y2="727.5" stroke="#a23434" stroke-width="1.8"/>
<text x="449" y="712.24" font-size="9" fill="#b3b3b3" text-anchor="middle">R27</text>
<line x1="436" y1="757" x2="445" y2="757" stroke="#c06868" stroke-width="1"/>
<rect x="445" y="753.8" width="20.3" height="6.4" fill="none" stroke="#a23434" stroke-width="1.35"/>
<line x1="465.5" y1="757" x2="475" y2="757" stroke="#c06868" stroke-width="1"/>
<polyline points="475,757 543,757 543,718 621.5,718 621.5,727" fill="none" stroke="#5db25d" stroke-width="1"/>
<text x="449" y="751.24" font-size="9" fill="#b3b3b3" text-anchor="middle">R29</text>
<polyline points="425.5,757 425.5,786.5 436,786.5" fill="none" stroke="#5db25d" stroke-width="1"/>
<line x1="436" y1="786.5" x2="440.5" y2="786.5" stroke="#c06868" stroke-width="1"/>
<polygon points="450.2,781.6 450.2,791.4 440.4,786.5" fill="none" stroke="#a23434" stroke-width="1.5" stroke-linejoin="miter"/>
<line x1="440.4" y1="781.1" x2="440.4" y2="791.9" stroke="#a23434" stroke-width="1.6"/>
<line x1="450.2" y1="786.5" x2="460" y2="786.5" stroke="#c06868" stroke-width="1"/>
<polygon points="460.1,781.6 460.1,791.4 469.9,786.5" fill="none" stroke="#a23434" stroke-width="1.5" stroke-linejoin="miter"/>
<line x1="469.9" y1="781.1" x2="469.9" y2="791.9" stroke="#a23434" stroke-width="1.6"/>
<line x1="469.9" y1="781.6" x2="471.5" y2="780" stroke="#a23434" stroke-width="1"/>
<line x1="440.4" y1="791.4" x2="438.8" y2="793" stroke="#a23434" stroke-width="1"/>
<line x1="469.9" y1="786.5" x2="475" y2="786.5" stroke="#c06868" stroke-width="1"/>
<polyline points="475,786.5 484.5,786.5 484.5,796.5" fill="none" stroke="#5db25d" stroke-width="1"/>
<line x1="484.5" y1="796.5" x2="484.5" y2="806" stroke="#c06868" stroke-width="1"/>
<line x1="477" y1="806" x2="492" y2="806" stroke="#a23434" stroke-width="1.8"/>
<text x="446" y="800.74" font-size="9" fill="#b3b3b3" text-anchor="middle">D9</text>
<text x="467" y="779.24" font-size="9" fill="#b3b3b3" text-anchor="middle">D10</text>
<line x1="562.5" y1="727" x2="562.5" y2="737" stroke="#c06868" stroke-width="1"/>
<rect x="559.3" y="737" width="6.4" height="20" fill="none" stroke="#a23434" stroke-width="1.35"/>
<line x1="562.5" y1="757" x2="562.5" y2="778" stroke="#c06868" stroke-width="1"/>
<rect x="554.5" y="778.3" width="16" height="3.25" fill="#a23434"/>
<rect x="554.5" y="782.45" width="16" height="3.25" fill="#a23434"/>
<line x1="562.5" y1="786" x2="562.5" y2="796" stroke="#c06868" stroke-width="1"/>
<polyline points="562.5,796 562.5,825.5" fill="none" stroke="#5db25d" stroke-width="1"/>
<circle cx="562.5" cy="825.5" r="2.4" fill="#40a040"/>
<text x="556.94" y="751.5" font-size="9" fill="#b3b3b3" text-anchor="middle" transform="rotate(-90 556.94 751.5)">R20</text>
<text x="577" y="775.24" font-size="9" fill="#b3b3b3" text-anchor="middle">C17</text>
<line x1="592" y1="728" x2="592" y2="737" stroke="#c06868" stroke-width="1"/>
<rect x="588.8" y="737" width="6.4" height="20" fill="none" stroke="#a23434" stroke-width="1.35"/>
<line x1="592" y1="757" x2="592" y2="778" stroke="#c06868" stroke-width="1"/>
<rect x="584" y="778.3" width="16" height="3.25" fill="#a23434"/>
<rect x="584" y="782.45" width="16" height="3.25" fill="#a23434"/>
<line x1="592" y1="786" x2="592" y2="796" stroke="#c06868" stroke-width="1"/>
<polyline points="592,796 592,825.5" fill="none" stroke="#5db25d" stroke-width="1"/>
<circle cx="592" cy="825.5" r="2.4" fill="#40a040"/>
<text x="586.44" y="752" font-size="9" fill="#b3b3b3" text-anchor="middle" transform="rotate(-90 586.44 752)">R34</text>
<text x="606" y="775.24" font-size="9" fill="#b3b3b3" text-anchor="middle">C15</text>
<line x1="621.5" y1="727" x2="621.5" y2="737" stroke="#c06868" stroke-width="1"/>
<rect x="618.3" y="737" width="6.4" height="20" fill="none" stroke="#a23434" stroke-width="1.35"/>
<line x1="621.5" y1="757" x2="621.5" y2="767" stroke="#c06868" stroke-width="1"/>
<polyline points="621.5,767 621.5,825.5" fill="none" stroke="#5db25d" stroke-width="1"/>
<circle cx="621.5" cy="825.5" r="2.4" fill="#40a040"/>
<text x="615.74" y="752" font-size="9" fill="#b3b3b3" text-anchor="middle" transform="rotate(-90 615.74 752)">R38</text>
<polygon points="357,835 357,874.5 396.5,854.75" fill="none" stroke="#a23434" stroke-width="2.2" stroke-linejoin="miter"/>
<line x1="360" y1="845.38" x2="365" y2="845.38" stroke="#a23434" stroke-width="1"/>
<line x1="362.5" y1="842.88" x2="362.5" y2="847.88" stroke="#a23434" stroke-width="1"/>
<line x1="360" y1="864.62" x2="365" y2="864.62" stroke="#a23434" stroke-width="1"/>
<text x="352.5" y="842.34" font-size="9" fill="#b3b3b3" text-anchor="middle">10</text>
<text x="352.5" y="861.84" font-size="9" fill="#b3b3b3" text-anchor="middle">9</text>
<text x="400" y="851.84" font-size="9" fill="#b3b3b3" text-anchor="middle">8</text>
<text x="396" y="842.74" font-size="9" fill="#b3b3b3" text-anchor="middle">IC4C</text>
<line x1="396.5" y1="854.7" x2="406" y2="854.7" stroke="#c06868" stroke-width="1"/>
<polyline points="406,854.7 416,854.7" fill="none" stroke="#5db25d" stroke-width="1"/>
<line x1="416" y1="854.7" x2="425" y2="854.7" stroke="#c06868" stroke-width="1"/>
<rect x="425" y="851.5" width="20.3" height="6.4" fill="none" stroke="#a23434" stroke-width="1.35"/>
<line x1="445.5" y1="854.7" x2="455" y2="854.7" stroke="#c06868" stroke-width="1"/>
<polyline points="455,854.7 485.5,854.7" fill="none" stroke="#5db25d" stroke-width="1"/>
<text x="441" y="867.74" font-size="9" fill="#b3b3b3" text-anchor="middle">R42</text>
<rect x="470" y="845" width="30" height="29.5" fill="none" stroke="#a23434" stroke-width="2"/>
<circle cx="490" cy="854.7" r="3.9" fill="none" stroke="#a23434" stroke-width="1"/>
<circle cx="490" cy="864.5" r="3.9" fill="none" stroke="#a23434" stroke-width="1"/>
<text x="482" y="852.84" font-size="9" fill="#b3b3b3" text-anchor="middle">2</text>
<text x="482" y="862.84" font-size="9" fill="#b3b3b3" text-anchor="middle">1</text>
<polyline points="486.1,864.5 455,864.5 455,874" fill="none" stroke="#5db25d" stroke-width="1"/>
<line x1="455" y1="874" x2="455" y2="883.5" stroke="#c06868" stroke-width="1"/>
<line x1="447.5" y1="883.5" x2="462.5" y2="883.5" stroke="#a23434" stroke-width="1.8"/>
<text x="479" y="883.74" font-size="9" fill="#b3b3b3" text-anchor="middle">LED1</text>
<polyline points="64,825.5 856,825.5" fill="none" stroke="#3b9f3b" stroke-width="3"/>
<circle cx="143" cy="825.5" r="2.6" fill="#40a040"/>
<circle cx="172.5" cy="825.5" r="2.6" fill="#40a040"/>
<circle cx="201.5" cy="825.5" r="2.6" fill="#40a040"/>
<circle cx="660.5" cy="825.5" r="2.6" fill="#40a040"/>
<circle cx="719" cy="825.5" r="2.6" fill="#40a040"/>
<circle cx="738.5" cy="825.5" r="2.6" fill="#40a040"/>
<circle cx="758" cy="825.5" r="2.6" fill="#40a040"/>
<circle cx="845.5" cy="825.5" r="2.6" fill="#40a040"/>
<polyline points="64,825.5 64,698.5 84.5,698.5" fill="none" stroke="#3b9f3b" stroke-width="3"/>
<polyline points="39.5,373.2 45,366 50.5,373.2" fill="none" stroke="#a23434" stroke-width="1.4" stroke-linejoin="miter"/>
<polyline points="45,366 45,386" fill="none" stroke="#5db25d" stroke-width="1"/>
<line x1="45" y1="386" x2="45" y2="395.5" stroke="#c06868" stroke-width="1"/>
<rect x="41.8" y="395.5" width="6.4" height="20" fill="none" stroke="#a23434" stroke-width="1.35"/>
<line x1="45" y1="415.5" x2="45" y2="425" stroke="#c06868" stroke-width="1"/>
<polyline points="45,425 45,434.8 123.5,434.8" fill="none" stroke="#5db25d" stroke-width="1"/>
<circle cx="45" cy="434.8" r="2.4" fill="#40a040"/>
<circle cx="74.5" cy="434.8" r="2.4" fill="#40a040"/>
<circle cx="103.5" cy="434.8" r="2.4" fill="#40a040"/>
<circle cx="123.5" cy="434.8" r="2.4" fill="#40a040"/>
<text x="58.24" y="398.5" font-size="9" fill="#b3b3b3" text-anchor="middle" transform="rotate(-90 58.24 398.5)">R28</text>
<text x="94" y="395.5" font-size="13.5" fill="#a33d3d" text-anchor="start" textLength="61" lengthAdjust="spacingAndGlyphs">Uref=2,5V</text>
<circle cx="123.5" cy="410" r="5" fill="none" stroke="#a23434" stroke-width="1.4"/>
<line x1="120.9" y1="410" x2="126.1" y2="410" stroke="#a23434" stroke-width="1"/>
<line x1="123.5" y1="407.4" x2="123.5" y2="412.6" stroke="#a23434" stroke-width="1"/>
<line x1="123.5" y1="415" x2="123.5" y2="425" stroke="#c06868" stroke-width="1"/>
<polyline points="123.5,425 123.5,434.8" fill="none" stroke="#5db25d" stroke-width="1"/>
<polyline points="45,434.8 45,493.5 55,493.5" fill="none" stroke="#5db25d" stroke-width="1"/>
<line x1="55" y1="493.5" x2="70" y2="493.5" stroke="#c06868" stroke-width="1"/>
<polyline points="74.5,434.8 74.5,474" fill="none" stroke="#5db25d" stroke-width="1"/>
<line x1="74.5" y1="474" x2="74.5" y2="487.5" stroke="#c06868" stroke-width="1"/>
<polygon points="69.5,497.5 79.5,497.5 74.5,487.5" fill="none" stroke="#a23434" stroke-width="1.5" stroke-linejoin="miter"/>
<line x1="69" y1="487.5" x2="80" y2="487.5" stroke="#a23434" stroke-width="1.6"/>
<line x1="69" y1="487.5" x2="66.7" y2="485.5" stroke="#a23434" stroke-width="1.3"/>
<line x1="80" y1="487.5" x2="82" y2="490.3" stroke="#a23434" stroke-width="1.3"/>
<line x1="74.5" y1="497.5" x2="74.5" y2="513" stroke="#c06868" stroke-width="1"/>
<polyline points="74.5,513 74.5,561.5 123.5,561.5" fill="none" stroke="#5db25d" stroke-width="1"/>
<circle cx="74.5" cy="561.5" r="2.4" fill="#40a040"/>
<circle cx="103.5" cy="561.5" r="2.4" fill="#40a040"/>
<polyline points="74.5,561.5 74.5,571" fill="none" stroke="#5db25d" stroke-width="1"/>
<line x1="74.5" y1="571" x2="74.5" y2="581" stroke="#c06868" stroke-width="1"/>
<line x1="67" y1="581" x2="82" y2="581" stroke="#a23434" stroke-width="1.8"/>
<text x="88.54" y="494.7" font-size="9" fill="#b3b3b3" text-anchor="middle" transform="rotate(-90 88.54 494.7)">VR1</text>
<polyline points="103.5,434.8 103.5,454" fill="none" stroke="#5db25d" stroke-width="1"/>
<line x1="103.5" y1="454" x2="103.5" y2="463.5" stroke="#c06868" stroke-width="1"/>
<rect x="97.5" y="463.7" width="12" height="3.6" fill="none" stroke="#a23434" stroke-width="1.4"/>
<rect x="97" y="469.7" width="13" height="3.8" fill="#a23434"/>
<line x1="98" y1="461.4" x2="101" y2="461.4" stroke="#a23434" stroke-width="0.9"/>
<line x1="99.5" y1="459.9" x2="99.5" y2="462.9" stroke="#a23434" stroke-width="0.9"/>
<line x1="103.5" y1="473.5" x2="103.5" y2="483" stroke="#c06868" stroke-width="1"/>
<polyline points="103.5,483 103.5,561.5" fill="none" stroke="#5db25d" stroke-width="1"/>
<text x="116" y="462.44" font-size="9" fill="#b3b3b3" text-anchor="middle">C14</text>
<polyline points="123.5,434.8 123.5,494" fill="none" stroke="#5db25d" stroke-width="1"/>
<line x1="123.5" y1="494" x2="123.5" y2="504.5" stroke="#c06868" stroke-width="1"/>
<rect x="115.5" y="504.6" width="16" height="3.25" fill="#a23434"/>
<rect x="115.5" y="508.75" width="16" height="3.25" fill="#a23434"/>
<line x1="123.5" y1="512" x2="123.5" y2="522" stroke="#c06868" stroke-width="1"/>
<polyline points="123.5,522 123.5,561.5" fill="none" stroke="#5db25d" stroke-width="1"/>
<text x="137.2" y="501.94" font-size="9" fill="#b3b3b3" text-anchor="middle">C13</text>
<circle cx="40" cy="640" r="4.8" fill="none" stroke="#a23434" stroke-width="2"/>
<line x1="45" y1="640" x2="54" y2="640" stroke="#c06868" stroke-width="1"/>
<polyline points="54,640 103.5,640 103.5,659" fill="none" stroke="#3b9f3b" stroke-width="3"/>
<polyline points="84.5,667.7 84.5,659 123.5,659 123.5,667.7" fill="none" stroke="#3b9f3b" stroke-width="3"/>
<text x="18" y="643.24" font-size="9" fill="#b3b3b3" text-anchor="middle">SZ1-2</text>
<line x1="84.5" y1="667.7" x2="84.5" y2="673.3" stroke="#c06868" stroke-width="1"/>
<polygon points="79.5,683.3 89.5,683.3 84.5,673.3" fill="none" stroke="#a23434" stroke-width="1.5" stroke-linejoin="miter"/>
<line x1="79" y1="673.3" x2="90" y2="673.3" stroke="#a23434" stroke-width="1.6"/>
<line x1="84.5" y1="683.3" x2="84.5" y2="688.7" stroke="#c06868" stroke-width="1"/>
<polyline points="84.5,688.7 84.5,704" fill="none" stroke="#3b9f3b" stroke-width="3"/>
<line x1="123.5" y1="667.7" x2="123.5" y2="673.3" stroke="#c06868" stroke-width="1"/>
<polygon points="118.5,673.3 128.5,673.3 123.5,683.3" fill="none" stroke="#a23434" stroke-width="1.5" stroke-linejoin="miter"/>
<line x1="118" y1="683.3" x2="129" y2="683.3" stroke="#a23434" stroke-width="1.6"/>
<line x1="123.5" y1="683.3" x2="123.5" y2="688.7" stroke="#c06868" stroke-width="1"/>
<polyline points="123.5,688.7 123.5,704" fill="none" stroke="#3b9f3b" stroke-width="3"/>
<polyline points="123.5,698.5 201.5,698.5" fill="none" stroke="#3b9f3b" stroke-width="3"/>
<circle cx="84.5" cy="698.5" r="2.6" fill="#40a040"/>
<circle cx="123.5" cy="698.5" r="2.6" fill="#40a040"/>
<circle cx="143" cy="698.5" r="2.6" fill="#40a040"/>
<circle cx="172.5" cy="698.5" r="2.6" fill="#40a040"/>
<circle cx="201.5" cy="698.5" r="2.6" fill="#40a040"/>
<circle cx="103.5" cy="659" r="2" fill="#40a040"/>
<circle cx="103.5" cy="737.5" r="2" fill="#40a040"/>
<line x1="84.5" y1="704" x2="84.5" y2="712.5" stroke="#c06868" stroke-width="1"/>
<polygon points="79.5,712.5 89.5,712.5 84.5,722.5" fill="none" stroke="#a23434" stroke-width="1.5" stroke-linejoin="miter"/>
<line x1="79" y1="722.5" x2="90" y2="722.5" stroke="#a23434" stroke-width="1.6"/>
<line x1="84.5" y1="722.5" x2="84.5" y2="728" stroke="#c06868" stroke-width="1"/>
<polyline points="84.5,728 84.5,737.5 123.5,737.5 123.5,728" fill="none" stroke="#3b9f3b" stroke-width="3"/>
<line x1="123.5" y1="704" x2="123.5" y2="712.5" stroke="#c06868" stroke-width="1"/>
<polygon points="118.5,722.5 128.5,722.5 123.5,712.5" fill="none" stroke="#a23434" stroke-width="1.5" stroke-linejoin="miter"/>
<line x1="118" y1="712.5" x2="129" y2="712.5" stroke="#a23434" stroke-width="1.6"/>
<line x1="123.5" y1="722.5" x2="123.5" y2="728" stroke="#c06868" stroke-width="1"/>
<polyline points="103.5,737.5 103.5,757 54,757" fill="none" stroke="#3b9f3b" stroke-width="3"/>
<line x1="45" y1="757" x2="54" y2="757" stroke="#c06868" stroke-width="1"/>
<circle cx="40" cy="757" r="4.8" fill="none" stroke="#a23434" stroke-width="2"/>
<text x="17.5" y="760.24" font-size="9" fill="#b3b3b3" text-anchor="middle">SZ1-1</text>
<text x="77.74" y="677" font-size="9" fill="#b3b3b3" text-anchor="middle" transform="rotate(-90 77.74 677)">D4</text>
<text x="136.74" y="679.5" font-size="9" fill="#b3b3b3" text-anchor="middle" transform="rotate(-90 136.74 679.5)">D2</text>
<text x="97.74" y="718.5" font-size="9" fill="#b3b3b3" text-anchor="middle" transform="rotate(-90 97.74 718.5)">D3</text>
<text x="117.24" y="718" font-size="9" fill="#b3b3b3" text-anchor="middle" transform="rotate(-90 117.24 718)">D1</text>
<polyline points="143,698.5 143,739" fill="none" stroke="#3b9f3b" stroke-width="3"/>
<line x1="143" y1="739" x2="143" y2="747.5" stroke="#c06868" stroke-width="1"/>
<rect x="137" y="747.5" width="12" height="3.6" fill="none" stroke="#a23434" stroke-width="1.4"/>
<rect x="136.5" y="753.5" width="13" height="3.8" fill="#a23434"/>
<line x1="137.5" y1="745.2" x2="140.5" y2="745.2" stroke="#a23434" stroke-width="0.9"/>
<line x1="139" y1="743.7" x2="139" y2="746.7" stroke="#a23434" stroke-width="0.9"/>
<line x1="143" y1="757.3" x2="143" y2="766" stroke="#c06868" stroke-width="1"/>
<polyline points="143,766 143,825.5" fill="none" stroke="#3b9f3b" stroke-width="3"/>
<text x="155.5" y="745.24" font-size="9" fill="#b3b3b3" text-anchor="middle">C21</text>
<polyline points="172.5,698.5 172.5,778.5" fill="none" stroke="#3b9f3b" stroke-width="3"/>
<line x1="172.5" y1="778.5" x2="172.5" y2="786.5" stroke="#c06868" stroke-width="1"/>
<rect x="166.5" y="786.5" width="12" height="3.6" fill="none" stroke="#a23434" stroke-width="1.4"/>
<rect x="166" y="792.5" width="13" height="3.8" fill="#a23434"/>
<line x1="167" y1="784.2" x2="170" y2="784.2" stroke="#a23434" stroke-width="0.9"/>
<line x1="168.5" y1="782.7" x2="168.5" y2="785.7" stroke="#a23434" stroke-width="0.9"/>
<line x1="172.5" y1="796.3" x2="172.5" y2="805" stroke="#c06868" stroke-width="1"/>
<polyline points="172.5,805 172.5,825.5" fill="none" stroke="#3b9f3b" stroke-width="3"/>
<text x="184.5" y="784.74" font-size="9" fill="#b3b3b3" text-anchor="middle">C11</text>
<polyline points="201.5,698.5 201.5,738" fill="none" stroke="#5db25d" stroke-width="1"/>
<line x1="201.5" y1="738" x2="201.5" y2="748.5" stroke="#c06868" stroke-width="1"/>
<rect x="193.5" y="748.8" width="16" height="3.25" fill="#a23434"/>
<rect x="193.5" y="752.95" width="16" height="3.25" fill="#a23434"/>
<line x1="201.5" y1="756.5" x2="201.5" y2="766.5" stroke="#c06868" stroke-width="1"/>
<polyline points="201.5,766.5 201.5,825.5" fill="none" stroke="#5db25d" stroke-width="1"/>
<polyline points="201.5,825.5 201.5,835.5" fill="none" stroke="#5db25d" stroke-width="1"/>
<line x1="201.5" y1="835.5" x2="201.5" y2="845" stroke="#c06868" stroke-width="1"/>
<line x1="195" y1="845" x2="208" y2="845" stroke="#a23434" stroke-width="1.8"/>
<text x="215.5" y="746.24" font-size="9" fill="#b3b3b3" text-anchor="middle">C22</text>
<polyline points="640.5,288 660,288" fill="none" stroke="#5db25d" stroke-width="1"/>
<line x1="660" y1="288" x2="670" y2="288" stroke="#c06868" stroke-width="1"/>
<circle cx="640.5" cy="288" r="2.4" fill="#40a040"/>
<polyline points="640.5,288 640.5,278" fill="none" stroke="#5db25d" stroke-width="1"/>
<line x1="640.5" y1="278" x2="640.5" y2="268.5" stroke="#c06868" stroke-width="1"/>
<rect x="637.3" y="248.5" width="6.4" height="20" fill="none" stroke="#a23434" stroke-width="1.35"/>
<line x1="640.5" y1="248.5" x2="640.5" y2="239" stroke="#c06868" stroke-width="1"/>
<polyline points="640.5,239 640.5,229.5 670,229.5" fill="none" stroke="#5db25d" stroke-width="1"/>
<text x="654.24" y="265" font-size="9" fill="#b3b3b3" text-anchor="middle" transform="rotate(-90 654.24 265)">R21</text>
<line x1="670" y1="229.5" x2="681" y2="229.5" stroke="#c06868" stroke-width="1"/>
<rect x="681.3" y="221.5" width="3.25" height="16" fill="#a23434"/>
<rect x="685.45" y="221.5" width="3.25" height="16" fill="#a23434"/>
<line x1="689" y1="229.5" x2="699.5" y2="229.5" stroke="#c06868" stroke-width="1"/>
<polyline points="699.5,229.5 748.5,229.5 748.5,268.4 752,268.4" fill="none" stroke="#5db25d" stroke-width="1"/>
<line x1="752" y1="268.4" x2="764" y2="268.4" stroke="#c06868" stroke-width="1"/>
<circle cx="719" cy="229.5" r="2.4" fill="#40a040"/>
<text x="678.24" y="217.5" font-size="9" fill="#b3b3b3" text-anchor="middle" transform="rotate(-90 678.24 217.5)">C3</text>
<polyline points="719,229.5 719,278.5" fill="none" stroke="#5db25d" stroke-width="1"/>
<line x1="719" y1="278.5" x2="709.5" y2="278.5" stroke="#c06868" stroke-width="1"/>
<polygon points="709.5,268.5 709.5,308 670,288.25" fill="none" stroke="#a23434" stroke-width="2.2" stroke-linejoin="miter"/>
<line x1="706.5" y1="278.88" x2="701.5" y2="278.88" stroke="#a23434" stroke-width="1"/>
<line x1="704" y1="276.38" x2="704" y2="281.38" stroke="#a23434" stroke-width="1"/>
<line x1="706.5" y1="298.12" x2="701.5" y2="298.12" stroke="#a23434" stroke-width="1"/>
<text x="713" y="275.84" font-size="9" fill="#b3b3b3" text-anchor="middle">3</text>
<text x="713" y="295.34" font-size="9" fill="#b3b3b3" text-anchor="middle">2</text>
<text x="665.5" y="285.84" font-size="9" fill="#b3b3b3" text-anchor="middle">1</text>
<text x="669" y="275.74" font-size="9" fill="#b3b3b3" text-anchor="middle">IC3A</text>
<line x1="709.5" y1="298" x2="719" y2="298" stroke="#c06868" stroke-width="1"/>
<polyline points="719,298 836,298" fill="none" stroke="#5db25d" stroke-width="1"/>
<circle cx="738.5" cy="298" r="2.4" fill="#40a040"/>
<circle cx="836" cy="298" r="2.4" fill="#40a040"/>
<polyline points="738.5,298 738.5,308" fill="none" stroke="#5db25d" stroke-width="1"/>
<line x1="738.5" y1="308" x2="738.5" y2="318.5" stroke="#c06868" stroke-width="1"/>
<rect x="730.5" y="318.5" width="16" height="3.25" fill="#a23434"/>
<rect x="730.5" y="322.65" width="16" height="3.25" fill="#a23434"/>
<line x1="738.5" y1="326" x2="738.5" y2="336" stroke="#c06868" stroke-width="1"/>
<polyline points="738.5,336 738.5,347.5" fill="none" stroke="#5db25d" stroke-width="1"/>
<line x1="738.5" y1="347.5" x2="738.5" y2="356" stroke="#c06868" stroke-width="1"/>
<line x1="731" y1="356" x2="746" y2="356" stroke="#a23434" stroke-width="1.8"/>
<text x="726.4" y="315.94" font-size="9" fill="#b3b3b3" text-anchor="middle">C7</text>
<polyline points="767.5,200.5 767.5,210" fill="none" stroke="#5db25d" stroke-width="1"/>
<line x1="767.5" y1="210" x2="767.5" y2="219.3" stroke="#c06868" stroke-width="1"/>
<rect x="764.3" y="219.3" width="6.4" height="20" fill="none" stroke="#a23434" stroke-width="1.35"/>
<line x1="767.5" y1="239.3" x2="767.5" y2="258.4" stroke="#c06868" stroke-width="1"/>
<rect x="764.3" y="258.4" width="6.4" height="20" fill="none" stroke="#a23434" stroke-width="1.35"/>
<line x1="767.5" y1="278.4" x2="767.5" y2="288.5" stroke="#c06868" stroke-width="1"/>
<polyline points="767.5,288.5 767.5,307.7" fill="none" stroke="#5db25d" stroke-width="1"/>
<line x1="767.5" y1="307.7" x2="767.5" y2="316.7" stroke="#c06868" stroke-width="1"/>
<rect x="764.3" y="316.7" width="6.4" height="20" fill="none" stroke="#a23434" stroke-width="1.35"/>
<line x1="767.5" y1="336.7" x2="767.5" y2="356" stroke="#c06868" stroke-width="1"/>
<line x1="760" y1="356" x2="775" y2="356" stroke="#a23434" stroke-width="1.8"/>
<line x1="758" y1="268.4" x2="776" y2="276" stroke="#a23434" stroke-width="1"/>
<line x1="776" y1="276" x2="772.2" y2="276.3" stroke="#a23434" stroke-width="0.9"/>
<line x1="776" y1="276" x2="773.5" y2="273.4" stroke="#a23434" stroke-width="0.9"/>
<line x1="778.3" y1="259.5" x2="778.3" y2="266.5" stroke="#a23434" stroke-width="1"/>
<line x1="776.1" y1="263.8" x2="778.3" y2="266.7" stroke="#a23434" stroke-width="1"/>
<line x1="780.5" y1="263.8" x2="778.3" y2="266.7" stroke="#a23434" stroke-width="1"/>
<text x="765.7" y="254" font-size="7.5" fill="#b3b3b3" text-anchor="middle" transform="rotate(-90 765.7 254)">A</text>
<text x="765.7" y="281.8" font-size="7.5" fill="#b3b3b3" text-anchor="middle" transform="rotate(-90 765.7 281.8)">E</text>
<text x="754" y="265.7" font-size="7.5" fill="#b3b3b3" text-anchor="middle">S</text>
<text x="781.24" y="235" font-size="9" fill="#b3b3b3" text-anchor="middle" transform="rotate(-90 781.24 235)">R25</text>
<text x="781.24" y="332.7" font-size="9" fill="#b3b3b3" text-anchor="middle" transform="rotate(-90 781.24 332.7)">R23</text>
<circle cx="855.6" cy="175.5" r="5" fill="none" stroke="#a23434" stroke-width="1.4"/>
<line x1="853" y1="175.5" x2="858.2" y2="175.5" stroke="#a23434" stroke-width="1"/>
<line x1="855.6" y1="172.9" x2="855.6" y2="178.1" stroke="#a23434" stroke-width="1"/>
<line x1="855.6" y1="180.5" x2="855.6" y2="190.5" stroke="#c06868" stroke-width="1"/>
<polyline points="855.6,190.5 855.6,210" fill="none" stroke="#5db25d" stroke-width="1"/>
<line x1="855.6" y1="210" x2="855.6" y2="219.3" stroke="#c06868" stroke-width="1"/>
<rect x="852.4" y="219.3" width="6.4" height="20" fill="none" stroke="#a23434" stroke-width="1.35"/>
<line x1="855.6" y1="239.3" x2="855.6" y2="249.8" stroke="#c06868" stroke-width="1"/>
<polyline points="855.6,249.8 855.6,268.8" fill="none" stroke="#5db25d" stroke-width="1"/>
<circle cx="855.6" cy="200.5" r="2.4" fill="#40a040"/>
<circle cx="855.6" cy="258.5" r="2.4" fill="#40a040"/>
<text x="869.24" y="235" font-size="9" fill="#b3b3b3" text-anchor="middle" transform="rotate(-90 869.24 235)">R30</text>
<polyline points="767.5,200.5 1011.7,200.5 1011.7,249" fill="none" stroke="#5db25d" stroke-width="1"/>
<line x1="1011.7" y1="249" x2="1011.7" y2="258.5" stroke="#c06868" stroke-width="1"/>
<rect x="1008.5" y="258.5" width="6.4" height="20" fill="none" stroke="#a23434" stroke-width="1.35"/>
<line x1="1011.7" y1="278.5" x2="1011.7" y2="288" stroke="#c06868" stroke-width="1"/>
<polyline points="1011.7,288 1011.7,308" fill="none" stroke="#5db25d" stroke-width="1"/>
<line x1="1011.7" y1="308" x2="1011.7" y2="317" stroke="#c06868" stroke-width="1"/>
<rect x="1008.5" y="317" width="6.4" height="20" fill="none" stroke="#a23434" stroke-width="1.35"/>
<line x1="1011.7" y1="337" x2="1011.7" y2="356" stroke="#c06868" stroke-width="1"/>
<line x1="1004.2" y1="356" x2="1019.2" y2="356" stroke="#a23434" stroke-width="1.8"/>
<circle cx="1011.7" cy="298" r="2.4" fill="#40a040"/>
<text x="1025.24" y="273.8" font-size="9" fill="#b3b3b3" text-anchor="middle" transform="rotate(-90 1025.24 273.8)">R55</text>
<text x="1025.24" y="333.7" font-size="9" fill="#b3b3b3" text-anchor="middle" transform="rotate(-90 1025.24 333.7)">R51</text>
<line x1="855.6" y1="268.8" x2="855.6" y2="278.8" stroke="#c06868" stroke-width="1"/>
<line x1="855.6" y1="278.8" x2="864" y2="281.5" stroke="#a23434" stroke-width="1.2"/>
<line x1="865" y1="278.4" x2="865" y2="297.7" stroke="#a23434" stroke-width="2.4"/>
<line x1="864" y1="294.6" x2="855.6" y2="297.7" stroke="#a23434" stroke-width="1.2"/>
<polygon points="856.8,297.3 861.4,297.7 860.1,293.9" fill="#a23434" stroke="#a23434" stroke-width="0.8" stroke-linejoin="miter"/>
<line x1="855.6" y1="297.7" x2="855.6" y2="307.7" stroke="#c06868" stroke-width="1"/>
<polyline points="855.6,307.7 855.6,327.5" fill="none" stroke="#5db25d" stroke-width="1"/>
<line x1="855.6" y1="327.5" x2="855.6" y2="331" stroke="#c06868" stroke-width="1"/>
<polygon points="850.6,331 860.6,331 855.6,341" fill="none" stroke="#a23434" stroke-width="1.5" stroke-linejoin="miter"/>
<line x1="850.1" y1="341" x2="861.1" y2="341" stroke="#a23434" stroke-width="1.6"/>
<line x1="850.1" y1="341" x2="848.4" y2="343.8" stroke="#a23434" stroke-width="1.3"/>
<line x1="861.1" y1="341" x2="862.8" y2="338.8" stroke="#a23434" stroke-width="1.3"/>
<line x1="855.6" y1="341" x2="855.6" y2="356" stroke="#c06868" stroke-width="1"/>
<line x1="848.1" y1="356" x2="863.1" y2="356" stroke="#a23434" stroke-width="1.8"/>
<circle cx="855.6" cy="317.3" r="2.4" fill="#40a040"/>
<text x="875.3" y="322.5" font-size="13.5" fill="#3aa53a" text-anchor="middle" transform="rotate(-90 875.3 322.5)" textLength="48" lengthAdjust="spacingAndGlyphs">Homero</text>
<line x1="865" y1="288" x2="884" y2="288" stroke="#c06868" stroke-width="1"/>
<rect x="884" y="284.8" width="20.3" height="6.4" fill="none" stroke="#a23434" stroke-width="1.35"/>
<line x1="904.5" y1="288" x2="914" y2="288" stroke="#c06868" stroke-width="1"/>
<polyline points="914,288 924,288" fill="none" stroke="#5db25d" stroke-width="1"/>
<line x1="924" y1="288" x2="934" y2="288" stroke="#c06868" stroke-width="1"/>
<text x="891.5" y="282.44" font-size="9" fill="#b3b3b3" text-anchor="start">R41</text>
<text x="898" y="259.04" font-size="9" fill="#b3b3b3" text-anchor="middle">Q2</text>
<rect x="792" y="268.5" width="30" height="19.5" fill="none" stroke="#a23434" stroke-width="2"/>
<circle cx="800.5" cy="278.5" r="3.9" fill="none" stroke="#a23434" stroke-width="1"/>
<polyline points="804.4,278.5 836,278.5 836,317.3 855.6,317.3" fill="none" stroke="#5db25d" stroke-width="1"/>
<text x="808.5" y="276.84" font-size="9" fill="#b3b3b3" text-anchor="middle">1</text>
<text x="817" y="298.04" font-size="9" fill="#b3b3b3" text-anchor="middle">J1</text>
<text x="798.24" y="260.3" font-size="9" fill="#b3b3b3" text-anchor="middle" transform="rotate(-90 798.24 260.3)">P1</text>
<polygon points="973.5,268.5 973.5,308 934,288.25" fill="none" stroke="#a23434" stroke-width="2.2" stroke-linejoin="miter"/>
<line x1="970.5" y1="278.88" x2="965.5" y2="278.88" stroke="#a23434" stroke-width="1"/>
<line x1="968" y1="276.38" x2="968" y2="281.38" stroke="#a23434" stroke-width="1"/>
<line x1="970.5" y1="298.12" x2="965.5" y2="298.12" stroke="#a23434" stroke-width="1"/>
<polyline points="855.6,258.5 992.5,258.5 992.5,278.5 983,278.5" fill="none" stroke="#5db25d" stroke-width="1"/>
<line x1="983" y1="278.5" x2="973.5" y2="278.5" stroke="#c06868" stroke-width="1"/>
<line x1="973.5" y1="298" x2="983" y2="298" stroke="#c06868" stroke-width="1"/>
<polyline points="983,298 1011.7,298" fill="none" stroke="#5db25d" stroke-width="1"/>
<text x="933.3" y="276.04" font-size="9" fill="#b3b3b3" text-anchor="middle">IC3B</text>
<text x="977" y="276.34" font-size="9" fill="#b3b3b3" text-anchor="middle">5</text>
<text x="977" y="295.84" font-size="9" fill="#b3b3b3" text-anchor="middle">6</text>
<text x="929.5" y="285.34" font-size="9" fill="#b3b3b3" text-anchor="middle">7</text>
<polyline points="654.8,392.7 660.3,385.5 665.8,392.7" fill="none" stroke="#a23434" stroke-width="1.4" stroke-linejoin="miter"/>
<line x1="660.3" y1="385.5" x2="660.3" y2="415.5" stroke="#a23434" stroke-width="1.1"/>
<text x="660.3" y="427.72" font-size="9.5" fill="#bf6a6a" text-anchor="middle">IC4</text>
<line x1="660.3" y1="434.5" x2="660.3" y2="464" stroke="#a23434" stroke-width="1.1"/>
<polyline points="654.8,456.8 660.3,464 665.8,456.8" fill="none" stroke="#a23434" stroke-width="1.4" stroke-linejoin="miter"/>
<text x="658.38" y="403" font-size="8" fill="#b3b3b3" text-anchor="middle" transform="rotate(-90 658.38 403)">4</text>
<text x="658.38" y="446" font-size="8" fill="#b3b3b3" text-anchor="middle" transform="rotate(-90 658.38 446)">11</text>
<polyline points="684,392.7 689.5,385.5 695,392.7" fill="none" stroke="#a23434" stroke-width="1.4" stroke-linejoin="miter"/>
<line x1="689.5" y1="385.5" x2="689.5" y2="415.5" stroke="#a23434" stroke-width="1.1"/>
<text x="689.5" y="427.72" font-size="9.5" fill="#bf6a6a" text-anchor="middle">IC3</text>
<line x1="689.5" y1="434.5" x2="689.5" y2="464" stroke="#a23434" stroke-width="1.1"/>
<line x1="682" y1="463.8" x2="697" y2="463.8" stroke="#a23434" stroke-width="1.8"/>
<text x="687.58" y="403" font-size="8" fill="#b3b3b3" text-anchor="middle" transform="rotate(-90 687.58 403)">8</text>
<text x="687.58" y="446" font-size="8" fill="#b3b3b3" text-anchor="middle" transform="rotate(-90 687.58 446)">4</text>
<polyline points="713.3,392.7 718.8,385.5 724.3,392.7" fill="none" stroke="#a23434" stroke-width="1.4" stroke-linejoin="miter"/>
<line x1="718.8" y1="385.5" x2="718.8" y2="415.5" stroke="#a23434" stroke-width="1.1"/>
<text x="718.8" y="427.72" font-size="9.5" fill="#bf6a6a" text-anchor="middle">IC5</text>
<line x1="718.8" y1="434.5" x2="718.8" y2="464" stroke="#a23434" stroke-width="1.1"/>
<polyline points="713.3,456.8 718.8,464 724.3,456.8" fill="none" stroke="#a23434" stroke-width="1.4" stroke-linejoin="miter"/>
<text x="716.88" y="403" font-size="8" fill="#b3b3b3" text-anchor="middle" transform="rotate(-90 716.88 403)">8</text>
<text x="716.88" y="446" font-size="8" fill="#b3b3b3" text-anchor="middle" transform="rotate(-90 716.88 446)">4</text>
<polyline points="742.7,392.7 748.2,385.5 753.7,392.7" fill="none" stroke="#a23434" stroke-width="1.4" stroke-linejoin="miter"/>
<line x1="748.2" y1="385.5" x2="748.2" y2="415.5" stroke="#a23434" stroke-width="1.1"/>
<text x="748.2" y="427.72" font-size="9.5" fill="#bf6a6a" text-anchor="middle">IC6</text>
<line x1="748.2" y1="434.5" x2="748.2" y2="464" stroke="#a23434" stroke-width="1.1"/>
<polyline points="742.7,456.8 748.2,464 753.7,456.8" fill="none" stroke="#a23434" stroke-width="1.4" stroke-linejoin="miter"/>
<text x="746.28" y="403" font-size="8" fill="#b3b3b3" text-anchor="middle" transform="rotate(-90 746.28 403)">8</text>
<text x="746.28" y="446" font-size="8" fill="#b3b3b3" text-anchor="middle" transform="rotate(-90 746.28 446)">4</text>
<polyline points="845.5,473.8 856,473.8" fill="none" stroke="#5db25d" stroke-width="1"/>
<line x1="856" y1="473.8" x2="865" y2="473.8" stroke="#c06868" stroke-width="1"/>
<circle cx="870" cy="473.8" r="4.8" fill="none" stroke="#a23434" stroke-width="2"/>
<polyline points="845.5,473.8 845.5,513" fill="none" stroke="#5db25d" stroke-width="1"/>
<line x1="845.5" y1="513" x2="845.5" y2="522" stroke="#c06868" stroke-width="1"/>
<line x1="838" y1="522" x2="853" y2="522" stroke="#a23434" stroke-width="1.8"/>
<circle cx="845.5" cy="502.5" r="2.6" fill="#40a040"/>
<line x1="856" y1="502.5" x2="865" y2="502.5" stroke="#c06868" stroke-width="1"/>
<circle cx="870" cy="502.5" r="4.8" fill="none" stroke="#a23434" stroke-width="2"/>
<text x="880" y="477.3" font-size="10" fill="#b3b3b3" text-anchor="start" textLength="42" lengthAdjust="spacingAndGlyphs">POZITIV-2</text>
<text x="880" y="506.3" font-size="10" fill="#b3b3b3" text-anchor="start" textLength="41" lengthAdjust="spacingAndGlyphs">POZITIV-1</text>
<line x1="856" y1="825.5" x2="865" y2="825.5" stroke="#c06868" stroke-width="1"/>
<circle cx="870" cy="825.5" r="4.8" fill="none" stroke="#a23434" stroke-width="2"/>
<polyline points="845.5,708.3 845.5,855 856,855" fill="none" stroke="#5db25d" stroke-width="1"/>
<line x1="856" y1="855" x2="865" y2="855" stroke="#c06868" stroke-width="1"/>
<circle cx="870" cy="855" r="4.8" fill="none" stroke="#a23434" stroke-width="2"/>
<text x="880" y="829.3" font-size="10" fill="#b3b3b3" text-anchor="start" textLength="46" lengthAdjust="spacingAndGlyphs">NEGATIV-2</text>
<text x="880" y="858.8" font-size="10" fill="#b3b3b3" text-anchor="start" textLength="45" lengthAdjust="spacingAndGlyphs">NEGATIV-1</text>
<rect x="938.5" y="571" width="30" height="59" fill="none" stroke="#a23434" stroke-width="2"/>
<circle cx="959.5" cy="581.5" r="3.9" fill="none" stroke="#a23434" stroke-width="1"/>
<text x="951" y="579.84" font-size="9" fill="#b3b3b3" text-anchor="middle">1</text>
<circle cx="959.5" cy="591.25" r="3.9" fill="none" stroke="#a23434" stroke-width="1"/>
<text x="951" y="589.59" font-size="9" fill="#b3b3b3" text-anchor="middle">2</text>
<circle cx="959.5" cy="601" r="3.9" fill="none" stroke="#a23434" stroke-width="1"/>
<text x="951" y="599.34" font-size="9" fill="#b3b3b3" text-anchor="middle">3</text>
<circle cx="959.5" cy="610.75" r="3.9" fill="none" stroke="#a23434" stroke-width="1"/>
<text x="951" y="609.09" font-size="9" fill="#b3b3b3" text-anchor="middle">4</text>
<circle cx="959.5" cy="620.5" r="3.9" fill="none" stroke="#a23434" stroke-width="1"/>
<text x="951" y="618.84" font-size="9" fill="#b3b3b3" text-anchor="middle">5</text>
<text x="946" y="569.24" font-size="9" fill="#b3b3b3" text-anchor="middle">U$6</text>
<polyline points="955.6,581.5 924,581.5 924,542.2" fill="none" stroke="#5db25d" stroke-width="1"/>
<polyline points="918.5,549.4 924,542.2 929.5,549.4" fill="none" stroke="#a23434" stroke-width="1.4" stroke-linejoin="miter"/>
<polyline points="955.6,591.25 904.5,591.25 904.5,542.2" fill="none" stroke="#5db25d" stroke-width="1"/>
<polyline points="899,549.4 904.5,542.2 910,549.4" fill="none" stroke="#a23434" stroke-width="1.4" stroke-linejoin="miter"/>
<polyline points="955.6,601 904.5,601 904.5,629.7" fill="none" stroke="#5db25d" stroke-width="1"/>
<line x1="904.5" y1="629.7" x2="904.5" y2="639.3" stroke="#c06868" stroke-width="1"/>
<line x1="897" y1="639.3" x2="912" y2="639.3" stroke="#a23434" stroke-width="1.8"/>
<polyline points="955.6,610.75 924,610.75 924,629.7" fill="none" stroke="#5db25d" stroke-width="1"/>
<line x1="924" y1="629.7" x2="924" y2="639.3" stroke="#c06868" stroke-width="1"/>
<line x1="916.5" y1="639.3" x2="931.5" y2="639.3" stroke="#a23434" stroke-width="1.8"/>
<polyline points="955.6,620.5 933.5,620.5 933.5,668.7" fill="none" stroke="#5db25d" stroke-width="1"/>
<polyline points="928,661.5 933.5,668.7 939,661.5" fill="none" stroke="#a23434" stroke-width="1.4" stroke-linejoin="miter"/>
<rect x="1046" y="571" width="30" height="59" fill="none" stroke="#a23434" stroke-width="2"/>
<circle cx="1067" cy="581.5" r="3.9" fill="none" stroke="#a23434" stroke-width="1"/>
<text x="1058.5" y="579.84" font-size="9" fill="#b3b3b3" text-anchor="middle">1</text>
<circle cx="1067" cy="591.25" r="3.9" fill="none" stroke="#a23434" stroke-width="1"/>
<text x="1058.5" y="589.59" font-size="9" fill="#b3b3b3" text-anchor="middle">2</text>
<circle cx="1067" cy="601" r="3.9" fill="none" stroke="#a23434" stroke-width="1"/>
<text x="1058.5" y="599.34" font-size="9" fill="#b3b3b3" text-anchor="middle">3</text>
<circle cx="1067" cy="610.75" r="3.9" fill="none" stroke="#a23434" stroke-width="1"/>
<text x="1058.5" y="609.09" font-size="9" fill="#b3b3b3" text-anchor="middle">4</text>
<circle cx="1067" cy="620.5" r="3.9" fill="none" stroke="#a23434" stroke-width="1"/>
<text x="1058.5" y="618.84" font-size="9" fill="#b3b3b3" text-anchor="middle">5</text>
<text x="1053.5" y="569.24" font-size="9" fill="#b3b3b3" text-anchor="middle">U$7</text>
<polyline points="1063.1,581.5 1031.5,581.5 1031.5,542.2" fill="none" stroke="#5db25d" stroke-width="1"/>
<polyline points="1026,549.4 1031.5,542.2 1037,549.4" fill="none" stroke="#a23434" stroke-width="1.4" stroke-linejoin="miter"/>
<polyline points="1063.1,591.25 1012,591.25 1012,542.2" fill="none" stroke="#5db25d" stroke-width="1"/>
<polyline points="1006.5,549.4 1012,542.2 1017.5,549.4" fill="none" stroke="#a23434" stroke-width="1.4" stroke-linejoin="miter"/>
<polyline points="1063.1,601 1012,601 1012,629.7" fill="none" stroke="#5db25d" stroke-width="1"/>
<line x1="1012" y1="629.7" x2="1012" y2="639.3" stroke="#c06868" stroke-width="1"/>
<line x1="1004.5" y1="639.3" x2="1019.5" y2="639.3" stroke="#a23434" stroke-width="1.8"/>
<polyline points="1063.1,610.75 1031.5,610.75 1031.5,629.7" fill="none" stroke="#5db25d" stroke-width="1"/>
<line x1="1031.5" y1="629.7" x2="1031.5" y2="639.3" stroke="#c06868" stroke-width="1"/>
<line x1="1024" y1="639.3" x2="1039" y2="639.3" stroke="#a23434" stroke-width="1.8"/>
<polyline points="1063.1,620.5 1041,620.5 1041,668.7" fill="none" stroke="#5db25d" stroke-width="1"/>
<polyline points="1035.5,661.5 1041,668.7 1046.5,661.5" fill="none" stroke="#a23434" stroke-width="1.4" stroke-linejoin="miter"/>
<rect x="909.5" y="698" width="30" height="69" fill="none" stroke="#a23434" stroke-width="2"/>
<circle cx="929.5" cy="708.3" r="3.9" fill="none" stroke="#a23434" stroke-width="1"/>
<text x="922" y="706.34" font-size="9" fill="#b3b3b3" text-anchor="middle">1</text>
<circle cx="929.5" cy="718.12" r="3.9" fill="none" stroke="#a23434" stroke-width="1"/>
<text x="922" y="716.16" font-size="9" fill="#b3b3b3" text-anchor="middle">2</text>
<circle cx="929.5" cy="727.94" r="3.9" fill="none" stroke="#a23434" stroke-width="1"/>
<text x="922" y="725.98" font-size="9" fill="#b3b3b3" text-anchor="middle">3</text>
<circle cx="929.5" cy="737.76" r="3.9" fill="none" stroke="#a23434" stroke-width="1"/>
<text x="922" y="735.8" font-size="9" fill="#b3b3b3" text-anchor="middle">4</text>
<circle cx="929.5" cy="747.58" r="3.9" fill="none" stroke="#a23434" stroke-width="1"/>
<text x="922" y="745.62" font-size="9" fill="#b3b3b3" text-anchor="middle">5</text>
<circle cx="929.5" cy="757.4" r="3.9" fill="none" stroke="#a23434" stroke-width="1"/>
<text x="922" y="755.44" font-size="9" fill="#b3b3b3" text-anchor="middle">6</text>
<text x="916.8" y="695.24" font-size="9" fill="#b3b3b3" text-anchor="middle">JP1</text>
<polyline points="925.6,708.3 845.5,708.3" fill="none" stroke="#5db25d" stroke-width="1"/>
<polyline points="925.6,718.1 904.5,718.1 904.5,689" fill="none" stroke="#5db25d" stroke-width="1"/>
<polyline points="899,696.2 904.5,689 910,696.2" fill="none" stroke="#a23434" stroke-width="1.4" stroke-linejoin="miter"/>
<polyline points="925.6,727.9 885,727.9 885,689" fill="none" stroke="#5db25d" stroke-width="1"/>
<polyline points="879.5,696.2 885,689 890.5,696.2" fill="none" stroke="#a23434" stroke-width="1.4" stroke-linejoin="miter"/>
<polyline points="925.6,737.8 865.5,737.8 865.5,757.5" fill="none" stroke="#5db25d" stroke-width="1"/>
<line x1="865.5" y1="757.5" x2="865.5" y2="767" stroke="#c06868" stroke-width="1"/>
<line x1="858" y1="767" x2="873" y2="767" stroke="#a23434" stroke-width="1.8"/>
<polyline points="925.6,747.6 885,747.6 885,757.5" fill="none" stroke="#5db25d" stroke-width="1"/>
<line x1="885" y1="757.5" x2="885" y2="767" stroke="#c06868" stroke-width="1"/>
<line x1="877.5" y1="767" x2="892.5" y2="767" stroke="#a23434" stroke-width="1.8"/>
<polyline points="925.6,757.4 904.5,757.4 904.5,786.5" fill="none" stroke="#5db25d" stroke-width="1"/>
<polyline points="899,779.3 904.5,786.5 910,779.3" fill="none" stroke="#a23434" stroke-width="1.4" stroke-linejoin="miter"/>
<rect x="772.5" y="581" width="30" height="39.5" fill="none" stroke="#a23434" stroke-width="2"/>
<circle cx="793.3" cy="591" r="3.9" fill="none" stroke="#a23434" stroke-width="1"/>
<circle cx="793.3" cy="601" r="3.9" fill="none" stroke="#a23434" stroke-width="1"/>
<circle cx="793.3" cy="610.5" r="3.9" fill="none" stroke="#a23434" stroke-width="1"/>
<text x="785.5" y="588.84" font-size="9" fill="#b3b3b3" text-anchor="middle">3</text>
<text x="785.5" y="598.84" font-size="9" fill="#b3b3b3" text-anchor="middle">2</text>
<text x="785.5" y="608.34" font-size="9" fill="#b3b3b3" text-anchor="middle">1</text>
<text x="780" y="630.04" font-size="9" fill="#b3b3b3" text-anchor="middle">JP5</text>
<polyline points="660.5,591 670,591" fill="none" stroke="#5db25d" stroke-width="1"/>
<line x1="670" y1="591" x2="679.5" y2="591" stroke="#c06868" stroke-width="1"/>
<rect x="679.5" y="587.8" width="20.3" height="6.4" fill="none" stroke="#a23434" stroke-width="1.35"/>
<line x1="700" y1="591" x2="709" y2="591" stroke="#c06868" stroke-width="1"/>
<polyline points="709,591 789.4,591" fill="none" stroke="#5db25d" stroke-width="1"/>
<polyline points="785,601 789.4,601" fill="none" stroke="#5db25d" stroke-width="1"/>
<text x="674.5" y="585.24" font-size="9" fill="#b3b3b3" text-anchor="start">R26</text>
<polyline points="789.4,610.5 777.5,610.5 777.5,630" fill="none" stroke="#5db25d" stroke-width="1"/>
<line x1="777.5" y1="630" x2="777.5" y2="639.5" stroke="#c06868" stroke-width="1"/>
<line x1="770" y1="639.5" x2="785" y2="639.5" stroke="#a23434" stroke-width="1.8"/>
<polyline points="660.5,591 660.5,825.5" fill="none" stroke="#5db25d" stroke-width="1"/>
<polyline points="719,502.5 719,639.8" fill="none" stroke="#5db25d" stroke-width="1"/>
<line x1="719" y1="639.8" x2="719" y2="644.2" stroke="#c06868" stroke-width="1"/>
<polygon points="713.8,654.6 724.2,654.6 719,644.2" fill="none" stroke="#a23434" stroke-width="1.5" stroke-linejoin="miter"/>
<line x1="713.3" y1="644.2" x2="724.7" y2="644.2" stroke="#a23434" stroke-width="1.6"/>
<line x1="719" y1="654.6" x2="719" y2="659.4" stroke="#c06868" stroke-width="1"/>
<polyline points="719,659.4 719,825.5" fill="none" stroke="#5db25d" stroke-width="1"/>
<circle cx="719" cy="502.5" r="2.4" fill="#40a040"/>
<text x="716.64" y="630.8" font-size="9" fill="#b3b3b3" text-anchor="middle" transform="rotate(-90 716.64 630.8)">D12</text>
<polyline points="738.5,502.5 738.5,660" fill="none" stroke="#5db25d" stroke-width="1"/>
<line x1="738.5" y1="660" x2="738.5" y2="668.5" stroke="#c06868" stroke-width="1"/>
<rect x="732.25" y="668.6" width="12.5" height="3.6" fill="none" stroke="#a23434" stroke-width="1.4"/>
<rect x="731.75" y="674.6" width="13.5" height="3.8" fill="#a23434"/>
<line x1="732.75" y1="666.3" x2="735.75" y2="666.3" stroke="#a23434" stroke-width="0.9"/>
<line x1="734.25" y1="664.8" x2="734.25" y2="667.8" stroke="#a23434" stroke-width="0.9"/>
<line x1="738.5" y1="678.5" x2="738.5" y2="688.5" stroke="#c06868" stroke-width="1"/>
<polyline points="738.5,688.5 738.5,825.5" fill="none" stroke="#5db25d" stroke-width="1"/>
<circle cx="738.5" cy="502.5" r="2.4" fill="#40a040"/>
<text x="750.8" y="667.24" font-size="9" fill="#b3b3b3" text-anchor="middle">C23</text>
<polyline points="758,502.5 758,690" fill="none" stroke="#5db25d" stroke-width="1"/>
<line x1="758" y1="690" x2="758" y2="700" stroke="#c06868" stroke-width="1"/>
<rect x="750" y="699.8" width="16" height="3.25" fill="#a23434"/>
<rect x="750" y="703.95" width="16" height="3.25" fill="#a23434"/>
<line x1="758" y1="708.5" x2="758" y2="718" stroke="#c06868" stroke-width="1"/>
<polyline points="758,718 758,825.5" fill="none" stroke="#5db25d" stroke-width="1"/>
<circle cx="758" cy="502.5" r="2.4" fill="#40a040"/>
<text x="771.8" y="696.94" font-size="9" fill="#b3b3b3" text-anchor="middle">C24</text>
<circle cx="528.5" cy="894" r="4.8" fill="none" stroke="#a23434" stroke-width="2"/>
<line x1="533.5" y1="894" x2="543" y2="894" stroke="#c06868" stroke-width="1"/>
<polyline points="543,894 572,894" fill="none" stroke="#5db25d" stroke-width="1"/>
<line x1="572" y1="894" x2="577" y2="894" stroke="#c06868" stroke-width="1"/>
<polygon points="577.1,888.8 577.1,899.2 587.5,894" fill="none" stroke="#a23434" stroke-width="1.5" stroke-linejoin="miter"/>
<line x1="587.5" y1="888.3" x2="587.5" y2="899.7" stroke="#a23434" stroke-width="1.6"/>
<line x1="587.5" y1="894" x2="592" y2="894" stroke="#c06868" stroke-width="1"/>
<polyline points="592,894 738.5,894" fill="none" stroke="#5db25d" stroke-width="1"/>
<line x1="738.5" y1="894" x2="748" y2="894" stroke="#c06868" stroke-width="1"/>
<text x="506" y="897.24" font-size="9" fill="#b3b3b3" text-anchor="middle">SZ2-2</text>
<text x="599.8" y="892.14" font-size="9" fill="#b3b3b3" text-anchor="middle">D14</text>
<circle cx="528.5" cy="943" r="4.8" fill="none" stroke="#a23434" stroke-width="2"/>
<line x1="533.5" y1="943" x2="543" y2="943" stroke="#c06868" stroke-width="1"/>
<polyline points="543,943 904.5,943 924,943 924,962" fill="none" stroke="#5db25d" stroke-width="1"/>
<line x1="924" y1="962" x2="924" y2="971.8" stroke="#c06868" stroke-width="1"/>
<line x1="916.5" y1="971.8" x2="931.5" y2="971.8" stroke="#a23434" stroke-width="1.8"/>
<text x="506" y="946.24" font-size="9" fill="#b3b3b3" text-anchor="middle">SZ2-1</text>
<polyline points="562.5,894 562.5,992 572,992" fill="none" stroke="#5db25d" stroke-width="1"/>
<line x1="572" y1="992" x2="577" y2="992" stroke="#c06868" stroke-width="1"/>
<polygon points="587.5,986.8 587.5,997.2 577.1,992" fill="none" stroke="#a23434" stroke-width="1.5" stroke-linejoin="miter"/>
<line x1="577.1" y1="986.3" x2="577.1" y2="997.7" stroke="#a23434" stroke-width="1.6"/>
<line x1="587.5" y1="992" x2="592" y2="992" stroke="#c06868" stroke-width="1"/>
<polyline points="592,992 738.5,992" fill="none" stroke="#5db25d" stroke-width="1"/>
<line x1="738.5" y1="992" x2="748" y2="992" stroke="#c06868" stroke-width="1"/>
<text x="563.8" y="1000.64" font-size="9" fill="#b3b3b3" text-anchor="middle">D15</text>
<circle cx="562.5" cy="894" r="2.4" fill="#40a040"/>
<circle cx="621.5" cy="894" r="2.4" fill="#40a040"/>
<circle cx="670.5" cy="894" r="2.4" fill="#40a040"/>
<circle cx="719" cy="894" r="2.4" fill="#40a040"/>
<circle cx="621.5" cy="943" r="2.4" fill="#40a040"/>
<circle cx="670.5" cy="943" r="2.4" fill="#40a040"/>
<circle cx="719" cy="943" r="2.4" fill="#40a040"/>
<circle cx="767.5" cy="943" r="2.4" fill="#40a040"/>
<circle cx="816.5" cy="943" r="2.4" fill="#40a040"/>
<circle cx="855.6" cy="943" r="2.4" fill="#40a040"/>
<circle cx="904.5" cy="943" r="2.4" fill="#40a040"/>
<circle cx="621.5" cy="992" r="2.4" fill="#40a040"/>
<circle cx="719" cy="992" r="2.4" fill="#40a040"/>
<circle cx="816.5" cy="992" r="2.4" fill="#40a040"/>
<polyline points="621.5,894 621.5,904.5" fill="none" stroke="#5db25d" stroke-width="1"/>
<line x1="621.5" y1="904.5" x2="621.5" y2="913" stroke="#c06868" stroke-width="1"/>
<rect x="615.25" y="913" width="12.5" height="3.6" fill="none" stroke="#a23434" stroke-width="1.4"/>
<rect x="614.75" y="919" width="13.5" height="3.8" fill="#a23434"/>
<line x1="615.75" y1="910.7" x2="618.75" y2="910.7" stroke="#a23434" stroke-width="0.9"/>
<line x1="617.25" y1="909.2" x2="617.25" y2="912.2" stroke="#a23434" stroke-width="0.9"/>
<line x1="621.5" y1="923" x2="621.5" y2="933" stroke="#c06868" stroke-width="1"/>
<polyline points="621.5,933 621.5,943" fill="none" stroke="#5db25d" stroke-width="1"/>
<polyline points="670.5,894 670.5,904.5" fill="none" stroke="#5db25d" stroke-width="1"/>
<line x1="670.5" y1="904.5" x2="670.5" y2="913" stroke="#c06868" stroke-width="1"/>
<rect x="664.25" y="913" width="12.5" height="3.6" fill="none" stroke="#a23434" stroke-width="1.4"/>
<rect x="663.75" y="919" width="13.5" height="3.8" fill="#a23434"/>
<line x1="664.75" y1="910.7" x2="667.75" y2="910.7" stroke="#a23434" stroke-width="0.9"/>
<line x1="666.25" y1="909.2" x2="666.25" y2="912.2" stroke="#a23434" stroke-width="0.9"/>
<line x1="670.5" y1="923" x2="670.5" y2="933" stroke="#c06868" stroke-width="1"/>
<polyline points="670.5,933 670.5,943" fill="none" stroke="#5db25d" stroke-width="1"/>
<text x="633.7" y="911.24" font-size="9" fill="#b3b3b3" text-anchor="middle">C25</text>
<text x="680.1" y="911.24" font-size="9" fill="#b3b3b3" text-anchor="middle">C4</text>
<polyline points="621.5,943 621.5,953" fill="none" stroke="#5db25d" stroke-width="1"/>
<line x1="621.5" y1="953" x2="621.5" y2="962" stroke="#c06868" stroke-width="1"/>
<rect x="615.25" y="962" width="12.5" height="3.6" fill="none" stroke="#a23434" stroke-width="1.4"/>
<rect x="614.75" y="968" width="13.5" height="3.8" fill="#a23434"/>
<line x1="615.75" y1="959.7" x2="618.75" y2="959.7" stroke="#a23434" stroke-width="0.9"/>
<line x1="617.25" y1="958.2" x2="617.25" y2="961.2" stroke="#a23434" stroke-width="0.9"/>
<line x1="621.5" y1="972" x2="621.5" y2="982" stroke="#c06868" stroke-width="1"/>
<polyline points="621.5,982 621.5,992" fill="none" stroke="#5db25d" stroke-width="1"/>
<text x="633.7" y="960.04" font-size="9" fill="#b3b3b3" text-anchor="middle">C10</text>
<polyline points="719,894 719,905" fill="none" stroke="#5db25d" stroke-width="1"/>
<line x1="719" y1="905" x2="719" y2="915.5" stroke="#c06868" stroke-width="1"/>
<rect x="711" y="915.8" width="16" height="3.25" fill="#a23434"/>
<rect x="711" y="919.95" width="16" height="3.25" fill="#a23434"/>
<line x1="719" y1="923.5" x2="719" y2="933" stroke="#c06868" stroke-width="1"/>
<polyline points="719,933 719,943" fill="none" stroke="#5db25d" stroke-width="1"/>
<polyline points="719,943 719,953" fill="none" stroke="#5db25d" stroke-width="1"/>
<line x1="719" y1="953" x2="719" y2="964.5" stroke="#c06868" stroke-width="1"/>
<rect x="711" y="964.8" width="16" height="3.25" fill="#a23434"/>
<rect x="711" y="968.95" width="16" height="3.25" fill="#a23434"/>
<line x1="719" y1="972.5" x2="719" y2="982" stroke="#c06868" stroke-width="1"/>
<polyline points="719,982 719,992" fill="none" stroke="#5db25d" stroke-width="1"/>
<polyline points="816.5,894 816.5,905" fill="none" stroke="#5db25d" stroke-width="1"/>
<line x1="816.5" y1="905" x2="816.5" y2="915.5" stroke="#c06868" stroke-width="1"/>
<rect x="808.5" y="915.8" width="16" height="3.25" fill="#a23434"/>
<rect x="808.5" y="919.95" width="16" height="3.25" fill="#a23434"/>
<line x1="816.5" y1="923.5" x2="816.5" y2="933" stroke="#c06868" stroke-width="1"/>
<polyline points="816.5,933 816.5,943" fill="none" stroke="#5db25d" stroke-width="1"/>
<polyline points="816.5,943 816.5,953" fill="none" stroke="#5db25d" stroke-width="1"/>
<line x1="816.5" y1="953" x2="816.5" y2="964.5" stroke="#c06868" stroke-width="1"/>
<rect x="808.5" y="964.8" width="16" height="3.25" fill="#a23434"/>
<rect x="808.5" y="968.95" width="16" height="3.25" fill="#a23434"/>
<line x1="816.5" y1="972.5" x2="816.5" y2="982" stroke="#c06868" stroke-width="1"/>
<polyline points="816.5,982 816.5,992" fill="none" stroke="#5db25d" stroke-width="1"/>
<text x="729.6" y="912.14" font-size="9" fill="#b3b3b3" text-anchor="middle">C1</text>
<text x="828" y="912.14" font-size="9" fill="#b3b3b3" text-anchor="middle">C2</text>
<text x="732.6" y="961.04" font-size="9" fill="#b3b3b3" text-anchor="middle">C12</text>
<text x="828" y="961.04" font-size="9" fill="#b3b3b3" text-anchor="middle">C9</text>
<rect x="748" y="884" width="40" height="29.5" fill="none" stroke="#a23434" stroke-width="2"/>
<text x="754.4" y="897.06" font-size="8.5" fill="#b3b3b3" text-anchor="middle">IN</text>
<text x="777.8" y="897.06" font-size="8.5" fill="#b3b3b3" text-anchor="middle">OUT</text>
<text x="768.3" y="910.36" font-size="8.5" fill="#b3b3b3" text-anchor="middle">GND</text>
<line x1="788" y1="894" x2="797" y2="894" stroke="#c06868" stroke-width="1"/>
<polyline points="797,894 904.5,894" fill="none" stroke="#5db25d" stroke-width="1"/>
<line x1="767.5" y1="913.5" x2="767.5" y2="923" stroke="#c06868" stroke-width="1"/>
<polyline points="767.5,923 767.5,943" fill="none" stroke="#5db25d" stroke-width="1"/>
<text x="783.5" y="923.14" font-size="9" fill="#b3b3b3" text-anchor="middle">IC1</text>
<rect x="748" y="972" width="40" height="30" fill="none" stroke="#a23434" stroke-width="2"/>
<text x="768.3" y="981.06" font-size="8.5" fill="#b3b3b3" text-anchor="middle">GND</text>
<text x="754.4" y="995.06" font-size="8.5" fill="#b3b3b3" text-anchor="middle">IN</text>
<text x="777.8" y="995.06" font-size="8.5" fill="#b3b3b3" text-anchor="middle">OUT</text>
<line x1="767.5" y1="972" x2="767.5" y2="963" stroke="#c06868" stroke-width="1"/>
<polyline points="767.5,963 767.5,943" fill="none" stroke="#5db25d" stroke-width="1"/>
<line x1="788" y1="992" x2="797" y2="992" stroke="#c06868" stroke-width="1"/>
<polyline points="797,992 904.5,992 904.5,1000.7" fill="none" stroke="#5db25d" stroke-width="1"/>
<line x1="904.5" y1="1000.7" x2="904.5" y2="1011" stroke="#c06868" stroke-width="1"/>
<polyline points="899,1003.8 904.5,1011 910,1003.8" fill="none" stroke="#a23434" stroke-width="1.4" stroke-linejoin="miter"/>
<text x="784" y="957.44" font-size="9" fill="#b3b3b3" text-anchor="middle">IC2</text>
<circle cx="816.5" cy="894" r="2.4" fill="#40a040"/>
<circle cx="855.6" cy="894" r="2.4" fill="#40a040"/>
<circle cx="904.5" cy="894" r="2.4" fill="#40a040"/>
<polyline points="855.6,894 855.6,904.5" fill="none" stroke="#5db25d" stroke-width="1"/>
<line x1="855.6" y1="904.5" x2="855.6" y2="913" stroke="#c06868" stroke-width="1"/>
<rect x="849.35" y="913" width="12.5" height="3.6" fill="none" stroke="#a23434" stroke-width="1.4"/>
<rect x="848.85" y="919" width="13.5" height="3.8" fill="#a23434"/>
<line x1="849.85" y1="910.7" x2="852.85" y2="910.7" stroke="#a23434" stroke-width="0.9"/>
<line x1="851.35" y1="909.2" x2="851.35" y2="912.2" stroke="#a23434" stroke-width="0.9"/>
<line x1="855.6" y1="923" x2="855.6" y2="933" stroke="#c06868" stroke-width="1"/>
<polyline points="855.6,933 855.6,943" fill="none" stroke="#5db25d" stroke-width="1"/>
<text x="865.5" y="911.24" font-size="9" fill="#b3b3b3" text-anchor="middle">C5</text>
<polyline points="899,881.2 904.5,874 910,881.2" fill="none" stroke="#a23434" stroke-width="1.4" stroke-linejoin="miter"/>
<polyline points="904.5,874 904.5,915" fill="none" stroke="#5db25d" stroke-width="1"/>
<line x1="904.5" y1="915" x2="904.5" y2="918.5" stroke="#c06868" stroke-width="1"/>
<polygon points="899.6,928.3 909.4,928.3 904.5,918.5" fill="none" stroke="#a23434" stroke-width="1.5" stroke-linejoin="miter"/>
<line x1="899.1" y1="918.5" x2="909.9" y2="918.5" stroke="#a23434" stroke-width="1.6"/>
<line x1="904.5" y1="928.3" x2="904.5" y2="933" stroke="#c06868" stroke-width="1"/>
<polyline points="904.5,933 904.5,943" fill="none" stroke="#5db25d" stroke-width="1"/>
<text x="902.24" y="907.5" font-size="9" fill="#b3b3b3" text-anchor="middle" transform="rotate(-90 902.24 907.5)">D6</text>
<rect x="45.5" y="883.8" width="390" height="136.6" fill="none" stroke="#a23434" stroke-width="1.5"/>
<line x1="45.5" y1="932.7" x2="435.5" y2="932.7" stroke="#a23434" stroke-width="1.5"/>
<line x1="45.5" y1="962.1" x2="435.5" y2="962.1" stroke="#a23434" stroke-width="1.5"/>
<line x1="45.5" y1="1001.1" x2="435.5" y2="1001.1" stroke="#a23434" stroke-width="1.5"/>
<line x1="382.3" y1="962.1" x2="382.3" y2="1001.1" stroke="#a23434" stroke-width="1.5"/>
<line x1="318.3" y1="1001.1" x2="318.3" y2="1020.4" stroke="#a23434" stroke-width="1.5"/>
<text x="239.3" y="922.8" font-size="33.5" fill="#a84848" text-anchor="middle" textLength="113.5" lengthAdjust="spacingAndGlyphs">Attila86</text>
<text x="50.4" y="947.6" font-size="14" fill="#a84848" class="mono" textLength="45" lengthAdjust="spacingAndGlyphs">TITLE:</text>
<text x="113" y="947.6" font-size="14" fill="#a84848" class="mono" style="white-space:pre" textLength="168.5" lengthAdjust="spacingAndGlyphs">Labortapegyseg II 16</text>
<text x="49.4" y="976.8" font-size="14" fill="#a84848" class="mono" textLength="134.5" lengthAdjust="spacingAndGlyphs">Document Number:</text>
<text x="386.7" y="976.8" font-size="14" fill="#a84848" class="mono" textLength="30.5" lengthAdjust="spacingAndGlyphs">REV:</text>
<text x="49.4" y="1015.8" font-size="14" fill="#a84848" class="mono" textLength="191" lengthAdjust="spacingAndGlyphs">Date: 2010.11.06. 3:11:41</text>
<text x="322.7" y="1015.8" font-size="14" fill="#a84848" class="mono" textLength="78.5" lengthAdjust="spacingAndGlyphs">Sheet: 1/1</text>
</svg></body></html>
